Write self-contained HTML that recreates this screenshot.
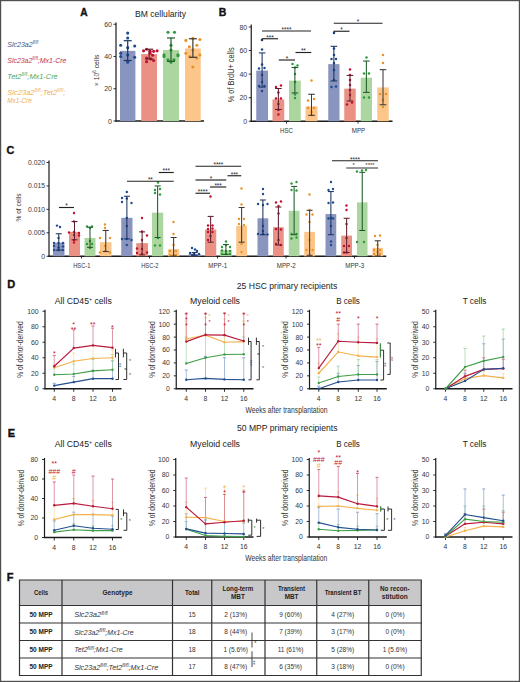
<!DOCTYPE html>
<html><head><meta charset="utf-8"><style>
html,body{margin:0;padding:0;background:#fff;}
body{width:520px;height:682px;overflow:hidden;}
svg{display:block;font-family:"Liberation Sans", sans-serif;}
</style></head><body>
<svg width="520" height="682" viewBox="0 0 520 682">
<rect width="520" height="682" fill="#fff"/>
<rect x="0.6" y="0.6" width="518.8" height="680.8" fill="none" stroke="#505050" stroke-width="1.2"/>
<text x="84" y="16.3" font-size="10.2" text-anchor="middle" fill="#111" font-weight="bold" stroke="#111" stroke-width="0.35">A</text>
<text x="160.5" y="17" font-size="8.6" text-anchor="middle" fill="#222" textLength="51" lengthAdjust="spacingAndGlyphs">BM cellularity</text>
<text x="7.3" y="46.6" font-size="7.3" font-style="italic" fill="#3b5486" textLength="31" lengthAdjust="spacingAndGlyphs"><tspan dy="0">Slc23a2</tspan><tspan font-size="4.6" dy="-2.8">fl/fl</tspan></text>
<text x="7.3" y="62.8" font-size="7.3" font-style="italic" fill="#c0304c" textLength="59" lengthAdjust="spacingAndGlyphs"><tspan dy="0">Slc23a2</tspan><tspan font-size="4.6" dy="-2.8">fl/fl</tspan><tspan dy="2.8">;Mx1-Cre</tspan></text>
<text x="7.3" y="78.9" font-size="7.3" font-style="italic" fill="#52a852" textLength="50.4" lengthAdjust="spacingAndGlyphs"><tspan dy="0">Tet2</tspan><tspan font-size="4.6" dy="-2.8">fl/fl</tspan><tspan dy="2.8">;Mx1-Cre</tspan></text>
<text x="7.3" y="94.9" font-size="7.3" font-style="italic" fill="#f1ad58" textLength="58" lengthAdjust="spacingAndGlyphs"><tspan dy="0">Slc23a2</tspan><tspan font-size="4.6" dy="-2.8">fl/fl</tspan><tspan dy="2.8">;Tet2</tspan><tspan font-size="4.6" dy="-2.8">fl/fl</tspan><tspan dy="2.8">;</tspan></text>
<text x="7.3" y="102.8" font-size="7.3" font-style="italic" fill="#f1ad58" textLength="24.4" lengthAdjust="spacingAndGlyphs"><tspan dy="0">Mx1-Cre</tspan></text>
<line x1="116" y1="22.5" x2="116" y2="121.6" stroke="#1a1a1a" stroke-width="1.2"/>
<line x1="113.5" y1="121" x2="116" y2="121" stroke="#1a1a1a" stroke-width="0.9"/>
<text x="112" y="123.52" font-size="7" text-anchor="end" fill="#383838">0</text>
<line x1="113.5" y1="88.75" x2="116" y2="88.75" stroke="#1a1a1a" stroke-width="0.9"/>
<text x="112" y="91.27" font-size="7" text-anchor="end" fill="#383838">20</text>
<line x1="113.5" y1="56.5" x2="116" y2="56.5" stroke="#1a1a1a" stroke-width="0.9"/>
<text x="112" y="59.02" font-size="7" text-anchor="end" fill="#383838">40</text>
<line x1="113.5" y1="24.25" x2="116" y2="24.25" stroke="#1a1a1a" stroke-width="0.9"/>
<text x="112" y="26.77" font-size="7" text-anchor="end" fill="#383838">60</text>
<line x1="115.4" y1="121" x2="204" y2="121" stroke="#1a1a1a" stroke-width="1.3"/>
<text transform="translate(98.8,70.4) rotate(-90)" font-size="7.6" text-anchor="middle" fill="#333" textLength="31.5" lengthAdjust="spacingAndGlyphs">× 10<tspan font-size="4.8" dy="-3">6</tspan><tspan dy="3"> cells</tspan></text>
<rect x="120" y="50.86" width="15.4" height="70.14" fill="#8994bf"/>
<circle cx="127.7" cy="33.12" r="1.55" fill="#1d4b8f"/>
<circle cx="127.7" cy="37.96" r="1.55" fill="#1d4b8f"/>
<circle cx="120.7" cy="45.21" r="1.55" fill="#1d4b8f"/>
<circle cx="134.7" cy="46.02" r="1.55" fill="#1d4b8f"/>
<circle cx="127.7" cy="47.63" r="1.55" fill="#1d4b8f"/>
<circle cx="120.7" cy="53.28" r="1.55" fill="#1d4b8f"/>
<circle cx="120.7" cy="56.5" r="1.55" fill="#1d4b8f"/>
<circle cx="134.7" cy="57.31" r="1.55" fill="#1d4b8f"/>
<circle cx="127.7" cy="54.89" r="1.55" fill="#1d4b8f"/>
<circle cx="127.7" cy="62.14" r="1.55" fill="#1d4b8f"/>
<line x1="127.7" y1="40.7" x2="127.7" y2="60.53" stroke="#1c3460" stroke-width="1.2"/>
<line x1="123.7" y1="40.7" x2="131.7" y2="40.7" stroke="#1c3460" stroke-width="1.2"/>
<line x1="123.7" y1="60.53" x2="131.7" y2="60.53" stroke="#1c3460" stroke-width="1.2"/>
<rect x="141.25" y="54.08" width="15.75" height="66.92" fill="#ea9184"/>
<circle cx="143.62" cy="50.86" r="1.55" fill="#c3102f"/>
<circle cx="146.62" cy="49.24" r="1.55" fill="#c3102f"/>
<circle cx="150.12" cy="51.34" r="1.55" fill="#c3102f"/>
<circle cx="153.62" cy="51.34" r="1.55" fill="#c3102f"/>
<circle cx="157.12" cy="50.86" r="1.55" fill="#c3102f"/>
<circle cx="150.12" cy="53.28" r="1.55" fill="#c3102f"/>
<circle cx="152.62" cy="55.21" r="1.55" fill="#c3102f"/>
<circle cx="146.62" cy="58.11" r="1.55" fill="#c3102f"/>
<circle cx="150.62" cy="58.92" r="1.55" fill="#c3102f"/>
<circle cx="153.62" cy="60.53" r="1.55" fill="#c3102f"/>
<circle cx="146.62" cy="61.66" r="1.55" fill="#c3102f"/>
<line x1="149.12" y1="49.24" x2="149.12" y2="58.92" stroke="#5e2030" stroke-width="1.2"/>
<line x1="145.12" y1="49.24" x2="153.12" y2="49.24" stroke="#5e2030" stroke-width="1.2"/>
<line x1="145.12" y1="58.92" x2="153.12" y2="58.92" stroke="#5e2030" stroke-width="1.2"/>
<rect x="163" y="50.05" width="16" height="70.95" fill="#acd69f"/>
<circle cx="168" cy="32.31" r="1.55" fill="#2e9a3a"/>
<circle cx="174.5" cy="32.31" r="1.55" fill="#2e9a3a"/>
<circle cx="164" cy="54.89" r="1.55" fill="#2e9a3a"/>
<circle cx="178" cy="54.89" r="1.55" fill="#2e9a3a"/>
<circle cx="171" cy="45.21" r="1.55" fill="#2e9a3a"/>
<circle cx="171" cy="50.05" r="1.55" fill="#2e9a3a"/>
<circle cx="168" cy="59.73" r="1.55" fill="#2e9a3a"/>
<circle cx="174" cy="59.73" r="1.55" fill="#2e9a3a"/>
<circle cx="171" cy="62.14" r="1.55" fill="#2e9a3a"/>
<circle cx="164" cy="56.5" r="1.55" fill="#2e9a3a"/>
<circle cx="178" cy="55.69" r="1.55" fill="#2e9a3a"/>
<line x1="171" y1="37.96" x2="171" y2="61.34" stroke="#1f5a2a" stroke-width="1.2"/>
<line x1="167" y1="37.96" x2="175" y2="37.96" stroke="#1f5a2a" stroke-width="1.2"/>
<line x1="167" y1="61.34" x2="175" y2="61.34" stroke="#1f5a2a" stroke-width="1.2"/>
<rect x="185" y="48.44" width="15.75" height="72.56" fill="#fcc68a"/>
<circle cx="185.88" cy="40.38" r="1.55" fill="#e8922a"/>
<circle cx="192.88" cy="38.28" r="1.55" fill="#e8922a"/>
<circle cx="199.88" cy="39.57" r="1.55" fill="#e8922a"/>
<circle cx="189.38" cy="46.83" r="1.55" fill="#e8922a"/>
<circle cx="196.88" cy="45.21" r="1.55" fill="#e8922a"/>
<circle cx="185.88" cy="53.28" r="1.55" fill="#e8922a"/>
<circle cx="199.88" cy="54.89" r="1.55" fill="#e8922a"/>
<circle cx="192.88" cy="50.05" r="1.55" fill="#e8922a"/>
<circle cx="189.88" cy="56.5" r="1.55" fill="#e8922a"/>
<circle cx="196.88" cy="58.11" r="1.55" fill="#e8922a"/>
<circle cx="192.88" cy="66.98" r="1.55" fill="#e8922a"/>
<line x1="192.88" y1="38.76" x2="192.88" y2="57.31" stroke="#3d3833" stroke-width="1.2"/>
<line x1="188.88" y1="38.76" x2="196.88" y2="38.76" stroke="#3d3833" stroke-width="1.2"/>
<line x1="188.88" y1="57.31" x2="196.88" y2="57.31" stroke="#3d3833" stroke-width="1.2"/>
<text x="222.5" y="16.3" font-size="10.5" text-anchor="middle" fill="#111" font-weight="bold" stroke="#111" stroke-width="0.35">B</text>
<line x1="251.25" y1="24.5" x2="251.25" y2="121.85" stroke="#1a1a1a" stroke-width="1.2"/>
<line x1="248.75" y1="121.25" x2="251.25" y2="121.25" stroke="#1a1a1a" stroke-width="0.9"/>
<text x="247.25" y="123.77" font-size="7" text-anchor="end" fill="#383838">0</text>
<line x1="248.75" y1="97.69" x2="251.25" y2="97.69" stroke="#1a1a1a" stroke-width="0.9"/>
<text x="247.25" y="100.21" font-size="7" text-anchor="end" fill="#383838">20</text>
<line x1="248.75" y1="74.12" x2="251.25" y2="74.12" stroke="#1a1a1a" stroke-width="0.9"/>
<text x="247.25" y="76.64" font-size="7" text-anchor="end" fill="#383838">40</text>
<line x1="248.75" y1="50.56" x2="251.25" y2="50.56" stroke="#1a1a1a" stroke-width="0.9"/>
<text x="247.25" y="53.08" font-size="7" text-anchor="end" fill="#383838">60</text>
<line x1="248.75" y1="27" x2="251.25" y2="27" stroke="#1a1a1a" stroke-width="0.9"/>
<text x="247.25" y="29.52" font-size="7" text-anchor="end" fill="#383838">80</text>
<line x1="250.6" y1="121.25" x2="392.5" y2="121.25" stroke="#1a1a1a" stroke-width="1.3"/>
<line x1="286.5" y1="121.25" x2="286.5" y2="123.5" stroke="#1a1a1a" stroke-width="0.9"/>
<line x1="358" y1="121.25" x2="358" y2="123.5" stroke="#1a1a1a" stroke-width="0.9"/>
<text x="286.5" y="133" font-size="7" text-anchor="middle" fill="#333" textLength="13" lengthAdjust="spacingAndGlyphs">HSC</text>
<text x="358.5" y="133" font-size="7" text-anchor="middle" fill="#333" textLength="13.5" lengthAdjust="spacingAndGlyphs">MPP</text>
<text transform="translate(233.9,74.8) rotate(-90)" font-size="8.4" text-anchor="middle" fill="#333" textLength="55" lengthAdjust="spacingAndGlyphs">% of BrdU+ cells</text>
<rect x="256.25" y="70.59" width="11.75" height="50.66" fill="#8994bf"/>
<circle cx="262.02" cy="39.99" r="1.25" fill="#1d4b8f"/>
<circle cx="262.02" cy="49.49" r="1.25" fill="#1d4b8f"/>
<circle cx="262.02" cy="64.49" r="1.25" fill="#1d4b8f"/>
<circle cx="259.02" cy="68.49" r="1.25" fill="#1d4b8f"/>
<circle cx="264.52" cy="67.99" r="1.25" fill="#1d4b8f"/>
<circle cx="262.02" cy="75" r="1.25" fill="#1d4b8f"/>
<circle cx="262.02" cy="82" r="1.25" fill="#1d4b8f"/>
<circle cx="262.02" cy="91" r="1.25" fill="#1d4b8f"/>
<circle cx="259.02" cy="86" r="1.25" fill="#1d4b8f"/>
<circle cx="264.52" cy="86" r="1.25" fill="#1d4b8f"/>
<line x1="262.12" y1="52.92" x2="262.12" y2="87.08" stroke="#1c3460" stroke-width="1.05"/>
<line x1="258.82" y1="52.92" x2="265.43" y2="52.92" stroke="#1c3460" stroke-width="1.05"/>
<line x1="258.82" y1="87.08" x2="265.43" y2="87.08" stroke="#1c3460" stroke-width="1.05"/>
<rect x="272.5" y="99.45" width="11.75" height="21.8" fill="#ea9184"/>
<circle cx="275.98" cy="87" r="1.25" fill="#c3102f"/>
<circle cx="280.98" cy="85.5" r="1.25" fill="#c3102f"/>
<circle cx="278.38" cy="92.5" r="1.25" fill="#c3102f"/>
<circle cx="275.98" cy="98.5" r="1.25" fill="#c3102f"/>
<circle cx="280.98" cy="98.5" r="1.25" fill="#c3102f"/>
<circle cx="278.38" cy="104" r="1.25" fill="#c3102f"/>
<circle cx="278.38" cy="114.5" r="1.25" fill="#c3102f"/>
<circle cx="278.38" cy="110" r="1.25" fill="#c3102f"/>
<line x1="278.38" y1="88.5" x2="278.38" y2="109.47" stroke="#5e2030" stroke-width="1.05"/>
<line x1="275.07" y1="88.5" x2="281.68" y2="88.5" stroke="#5e2030" stroke-width="1.05"/>
<line x1="275.07" y1="109.47" x2="281.68" y2="109.47" stroke="#5e2030" stroke-width="1.05"/>
<rect x="289" y="80.6" width="11.75" height="40.65" fill="#acd69f"/>
<circle cx="292.48" cy="63.99" r="1.25" fill="#2e9a3a"/>
<circle cx="297.48" cy="65.49" r="1.25" fill="#2e9a3a"/>
<circle cx="294.98" cy="67.49" r="1.25" fill="#2e9a3a"/>
<circle cx="294.98" cy="82" r="1.25" fill="#2e9a3a"/>
<circle cx="294.98" cy="94.5" r="1.25" fill="#2e9a3a"/>
<circle cx="294.98" cy="98" r="1.25" fill="#2e9a3a"/>
<circle cx="294.98" cy="73.99" r="1.25" fill="#2e9a3a"/>
<line x1="294.88" y1="67.53" x2="294.88" y2="92.97" stroke="#1f5a2a" stroke-width="1.05"/>
<line x1="291.57" y1="67.53" x2="298.18" y2="67.53" stroke="#1f5a2a" stroke-width="1.05"/>
<line x1="291.57" y1="92.97" x2="298.18" y2="92.97" stroke="#1f5a2a" stroke-width="1.05"/>
<rect x="305.5" y="106.29" width="12" height="14.96" fill="#fcc68a"/>
<circle cx="311.5" cy="80.5" r="1.25" fill="#e8922a"/>
<circle cx="308" cy="100.5" r="1.25" fill="#e8922a"/>
<circle cx="314" cy="99" r="1.25" fill="#e8922a"/>
<circle cx="308" cy="108" r="1.25" fill="#e8922a"/>
<circle cx="314" cy="108" r="1.25" fill="#e8922a"/>
<circle cx="311.5" cy="112" r="1.25" fill="#e8922a"/>
<circle cx="311.5" cy="115" r="1.25" fill="#e8922a"/>
<line x1="311.5" y1="94.27" x2="311.5" y2="115.36" stroke="#3d3833" stroke-width="1.05"/>
<line x1="308.2" y1="94.27" x2="314.8" y2="94.27" stroke="#3d3833" stroke-width="1.05"/>
<line x1="308.2" y1="115.36" x2="314.8" y2="115.36" stroke="#3d3833" stroke-width="1.05"/>
<rect x="328.25" y="64.11" width="11.25" height="57.14" fill="#8994bf"/>
<circle cx="333.98" cy="32.99" r="1.25" fill="#1d4b8f"/>
<circle cx="333.98" cy="48.49" r="1.25" fill="#1d4b8f"/>
<circle cx="333.98" cy="54.99" r="1.25" fill="#1d4b8f"/>
<circle cx="331.48" cy="58.99" r="1.25" fill="#1d4b8f"/>
<circle cx="335.98" cy="58.99" r="1.25" fill="#1d4b8f"/>
<circle cx="333.98" cy="62.99" r="1.25" fill="#1d4b8f"/>
<circle cx="333.98" cy="69.99" r="1.25" fill="#1d4b8f"/>
<circle cx="331.48" cy="87" r="1.25" fill="#1d4b8f"/>
<circle cx="335.98" cy="86.5" r="1.25" fill="#1d4b8f"/>
<circle cx="333.98" cy="80" r="1.25" fill="#1d4b8f"/>
<line x1="333.88" y1="46.32" x2="333.88" y2="80.96" stroke="#1c3460" stroke-width="1.05"/>
<line x1="330.57" y1="46.32" x2="337.18" y2="46.32" stroke="#1c3460" stroke-width="1.05"/>
<line x1="330.57" y1="80.96" x2="337.18" y2="80.96" stroke="#1c3460" stroke-width="1.05"/>
<rect x="344.25" y="88.62" width="11.5" height="32.63" fill="#ea9184"/>
<circle cx="350" cy="69.49" r="1.25" fill="#c3102f"/>
<circle cx="350" cy="75" r="1.25" fill="#c3102f"/>
<circle cx="350" cy="80" r="1.25" fill="#c3102f"/>
<circle cx="350" cy="85" r="1.25" fill="#c3102f"/>
<circle cx="350" cy="90" r="1.25" fill="#c3102f"/>
<circle cx="350" cy="95" r="1.25" fill="#c3102f"/>
<circle cx="347" cy="104.5" r="1.25" fill="#c3102f"/>
<circle cx="352" cy="102.5" r="1.25" fill="#c3102f"/>
<line x1="350" y1="75.42" x2="350" y2="100.99" stroke="#5e2030" stroke-width="1.05"/>
<line x1="346.7" y1="75.42" x2="353.3" y2="75.42" stroke="#5e2030" stroke-width="1.05"/>
<line x1="346.7" y1="100.99" x2="353.3" y2="100.99" stroke="#5e2030" stroke-width="1.05"/>
<rect x="360.75" y="77.66" width="11.25" height="43.59" fill="#acd69f"/>
<circle cx="366.48" cy="57.49" r="1.25" fill="#2e9a3a"/>
<circle cx="363.98" cy="73.49" r="1.25" fill="#2e9a3a"/>
<circle cx="368.98" cy="73.49" r="1.25" fill="#2e9a3a"/>
<circle cx="363.98" cy="97.5" r="1.25" fill="#2e9a3a"/>
<circle cx="368.98" cy="97.5" r="1.25" fill="#2e9a3a"/>
<line x1="366.38" y1="61.05" x2="366.38" y2="92.39" stroke="#1f5a2a" stroke-width="1.05"/>
<line x1="363.07" y1="61.05" x2="369.68" y2="61.05" stroke="#1f5a2a" stroke-width="1.05"/>
<line x1="363.07" y1="92.39" x2="369.68" y2="92.39" stroke="#1f5a2a" stroke-width="1.05"/>
<rect x="377.25" y="87.44" width="11.5" height="33.81" fill="#fcc68a"/>
<circle cx="383" cy="54.99" r="1.25" fill="#e8922a"/>
<circle cx="383" cy="62.99" r="1.25" fill="#e8922a"/>
<circle cx="380" cy="94" r="1.25" fill="#e8922a"/>
<circle cx="386" cy="94" r="1.25" fill="#e8922a"/>
<circle cx="383" cy="107" r="1.25" fill="#e8922a"/>
<circle cx="383" cy="100" r="1.25" fill="#e8922a"/>
<line x1="383" y1="69.65" x2="383" y2="104.76" stroke="#3d3833" stroke-width="1.05"/>
<line x1="379.7" y1="69.65" x2="386.3" y2="69.65" stroke="#3d3833" stroke-width="1.05"/>
<line x1="379.7" y1="104.76" x2="386.3" y2="104.76" stroke="#3d3833" stroke-width="1.05"/>
<line x1="262" y1="31" x2="311" y2="31" stroke="#222" stroke-width="1.15"/>
<text x="286.5" y="31.8" font-size="6.4" text-anchor="middle" fill="#222">****</text>
<line x1="262" y1="38.75" x2="278" y2="38.75" stroke="#222" stroke-width="1.15"/>
<text x="270" y="39.55" font-size="6.4" text-anchor="middle" fill="#222">***</text>
<line x1="262" y1="38.75" x2="262" y2="41" stroke="#222" stroke-width="1"/>
<line x1="278.75" y1="60" x2="295" y2="60" stroke="#222" stroke-width="1.15"/>
<text x="286.88" y="60.8" font-size="6.4" text-anchor="middle" fill="#222">*</text>
<line x1="295.5" y1="52.5" x2="311.25" y2="52.5" stroke="#222" stroke-width="1.15"/>
<text x="303.38" y="53.3" font-size="6.4" text-anchor="middle" fill="#222">**</text>
<line x1="333.75" y1="23.25" x2="382.5" y2="23.25" stroke="#222" stroke-width="1.15"/>
<text x="358.12" y="24.05" font-size="6.4" text-anchor="middle" fill="#222">*</text>
<line x1="333.75" y1="31.25" x2="349.5" y2="31.25" stroke="#222" stroke-width="1.15"/>
<text x="341.62" y="32.05" font-size="6.4" text-anchor="middle" fill="#222">*</text>
<line x1="333.75" y1="31.25" x2="333.75" y2="33.5" stroke="#222" stroke-width="1"/>
<text x="10.5" y="153.8" font-size="10.8" text-anchor="middle" fill="#111" font-weight="bold" stroke="#111" stroke-width="0.35">C</text>
<line x1="49" y1="160.5" x2="49" y2="256.85" stroke="#1a1a1a" stroke-width="1.2"/>
<line x1="46.5" y1="256.25" x2="49" y2="256.25" stroke="#1a1a1a" stroke-width="0.9"/>
<text x="45" y="258.7" font-size="6.8" text-anchor="end" fill="#383838">0</text>
<line x1="46.5" y1="232.81" x2="49" y2="232.81" stroke="#1a1a1a" stroke-width="0.9"/>
<text x="45" y="235.26" font-size="6.8" text-anchor="end" fill="#383838">0.005</text>
<line x1="46.5" y1="209.38" x2="49" y2="209.38" stroke="#1a1a1a" stroke-width="0.9"/>
<text x="45" y="211.82" font-size="6.8" text-anchor="end" fill="#383838">0.010</text>
<line x1="46.5" y1="185.94" x2="49" y2="185.94" stroke="#1a1a1a" stroke-width="0.9"/>
<text x="45" y="188.39" font-size="6.8" text-anchor="end" fill="#383838">0.015</text>
<line x1="46.5" y1="162.5" x2="49" y2="162.5" stroke="#1a1a1a" stroke-width="0.9"/>
<text x="45" y="164.95" font-size="6.8" text-anchor="end" fill="#383838">0.020</text>
<line x1="48.4" y1="256.25" x2="386.25" y2="256.25" stroke="#1a1a1a" stroke-width="1.3"/>
<text transform="translate(20.5,207.5) rotate(-90)" font-size="7" text-anchor="middle" fill="#333" textLength="28" lengthAdjust="spacingAndGlyphs">% of cells</text>
<line x1="81.5" y1="256.25" x2="81.5" y2="258.5" stroke="#1a1a1a" stroke-width="0.9"/>
<text x="81.8" y="268" font-size="7" text-anchor="middle" fill="#333" textLength="17.3" lengthAdjust="spacingAndGlyphs">HSC-1</text>
<rect x="53" y="242.66" width="11.5" height="13.59" fill="#8994bf"/>
<circle cx="57" cy="225.6" r="1.2" fill="#1d4b8f"/>
<circle cx="60" cy="227" r="1.2" fill="#1d4b8f"/>
<circle cx="54" cy="243" r="1.2" fill="#1d4b8f"/>
<circle cx="58.5" cy="243" r="1.2" fill="#1d4b8f"/>
<circle cx="63" cy="243" r="1.2" fill="#1d4b8f"/>
<circle cx="54" cy="246" r="1.2" fill="#1d4b8f"/>
<circle cx="58.5" cy="247.5" r="1.2" fill="#1d4b8f"/>
<circle cx="63" cy="246.5" r="1.2" fill="#1d4b8f"/>
<circle cx="54" cy="250" r="1.2" fill="#1d4b8f"/>
<circle cx="58.5" cy="250" r="1.2" fill="#1d4b8f"/>
<circle cx="63" cy="250" r="1.2" fill="#1d4b8f"/>
<circle cx="58.5" cy="238" r="1.2" fill="#1d4b8f"/>
<line x1="58.75" y1="233.75" x2="58.75" y2="250.16" stroke="#1c3460" stroke-width="1.05"/>
<line x1="55.75" y1="233.75" x2="61.75" y2="233.75" stroke="#1c3460" stroke-width="1.05"/>
<line x1="55.75" y1="250.16" x2="61.75" y2="250.16" stroke="#1c3460" stroke-width="1.05"/>
<rect x="69" y="231.88" width="11" height="24.38" fill="#ea9184"/>
<circle cx="74" cy="213" r="1.2" fill="#c3102f"/>
<circle cx="74" cy="221.5" r="1.2" fill="#c3102f"/>
<circle cx="69" cy="232.5" r="1.2" fill="#c3102f"/>
<circle cx="74" cy="232" r="1.2" fill="#c3102f"/>
<circle cx="79" cy="233" r="1.2" fill="#c3102f"/>
<circle cx="74" cy="235" r="1.2" fill="#c3102f"/>
<circle cx="79" cy="235.5" r="1.2" fill="#c3102f"/>
<circle cx="74" cy="242.5" r="1.2" fill="#c3102f"/>
<circle cx="74" cy="240" r="1.2" fill="#c3102f"/>
<line x1="74.5" y1="221.56" x2="74.5" y2="239.84" stroke="#5e2030" stroke-width="1.05"/>
<line x1="71.5" y1="221.56" x2="77.5" y2="221.56" stroke="#5e2030" stroke-width="1.05"/>
<line x1="71.5" y1="239.84" x2="77.5" y2="239.84" stroke="#5e2030" stroke-width="1.05"/>
<rect x="84.5" y="237.97" width="11" height="18.28" fill="#acd69f"/>
<circle cx="87" cy="226.5" r="1.2" fill="#2e9a3a"/>
<circle cx="92" cy="226.5" r="1.2" fill="#2e9a3a"/>
<circle cx="90" cy="228" r="1.2" fill="#2e9a3a"/>
<circle cx="90" cy="241" r="1.2" fill="#2e9a3a"/>
<circle cx="87" cy="244" r="1.2" fill="#2e9a3a"/>
<circle cx="92" cy="244" r="1.2" fill="#2e9a3a"/>
<circle cx="90" cy="248" r="1.2" fill="#2e9a3a"/>
<line x1="90" y1="227.19" x2="90" y2="247.34" stroke="#1f5a2a" stroke-width="1.05"/>
<line x1="87" y1="227.19" x2="93" y2="227.19" stroke="#1f5a2a" stroke-width="1.05"/>
<line x1="87" y1="247.34" x2="93" y2="247.34" stroke="#1f5a2a" stroke-width="1.05"/>
<rect x="100" y="242.19" width="11.5" height="14.06" fill="#fcc68a"/>
<circle cx="105" cy="224.5" r="1.2" fill="#e8922a"/>
<circle cx="105" cy="228" r="1.2" fill="#e8922a"/>
<circle cx="100" cy="238" r="1.2" fill="#e8922a"/>
<circle cx="110" cy="238" r="1.2" fill="#e8922a"/>
<circle cx="105" cy="246" r="1.2" fill="#e8922a"/>
<circle cx="100" cy="252.5" r="1.2" fill="#e8922a"/>
<circle cx="110" cy="252.5" r="1.2" fill="#e8922a"/>
<circle cx="105" cy="251" r="1.2" fill="#e8922a"/>
<line x1="105.75" y1="230.47" x2="105.75" y2="251.56" stroke="#3d3833" stroke-width="1.05"/>
<line x1="102.75" y1="230.47" x2="108.75" y2="230.47" stroke="#3d3833" stroke-width="1.05"/>
<line x1="102.75" y1="251.56" x2="108.75" y2="251.56" stroke="#3d3833" stroke-width="1.05"/>
<line x1="149.5" y1="256.25" x2="149.5" y2="258.5" stroke="#1a1a1a" stroke-width="0.9"/>
<text x="149.8" y="268" font-size="7" text-anchor="middle" fill="#333" textLength="17.3" lengthAdjust="spacingAndGlyphs">HSC-2</text>
<rect x="121.25" y="217.81" width="11.25" height="38.44" fill="#8994bf"/>
<circle cx="126.8" cy="192" r="1.2" fill="#1d4b8f"/>
<circle cx="122" cy="198" r="1.2" fill="#1d4b8f"/>
<circle cx="126.8" cy="198.5" r="1.2" fill="#1d4b8f"/>
<circle cx="122" cy="202" r="1.2" fill="#1d4b8f"/>
<circle cx="131.5" cy="203" r="1.2" fill="#1d4b8f"/>
<circle cx="126.8" cy="218" r="1.2" fill="#1d4b8f"/>
<circle cx="126.8" cy="226" r="1.2" fill="#1d4b8f"/>
<circle cx="122" cy="239" r="1.2" fill="#1d4b8f"/>
<circle cx="126.8" cy="239" r="1.2" fill="#1d4b8f"/>
<circle cx="131.5" cy="240" r="1.2" fill="#1d4b8f"/>
<circle cx="126.8" cy="245" r="1.2" fill="#1d4b8f"/>
<line x1="126.88" y1="196.25" x2="126.88" y2="238.91" stroke="#1c3460" stroke-width="1.05"/>
<line x1="123.88" y1="196.25" x2="129.88" y2="196.25" stroke="#1c3460" stroke-width="1.05"/>
<line x1="123.88" y1="238.91" x2="129.88" y2="238.91" stroke="#1c3460" stroke-width="1.05"/>
<rect x="136.25" y="243.12" width="11.75" height="13.12" fill="#ea9184"/>
<circle cx="142" cy="218" r="1.2" fill="#c3102f"/>
<circle cx="142" cy="231.5" r="1.2" fill="#c3102f"/>
<circle cx="147" cy="235.5" r="1.2" fill="#c3102f"/>
<circle cx="142" cy="240" r="1.2" fill="#c3102f"/>
<circle cx="137" cy="248.5" r="1.2" fill="#c3102f"/>
<circle cx="142" cy="249" r="1.2" fill="#c3102f"/>
<circle cx="147" cy="252.5" r="1.2" fill="#c3102f"/>
<circle cx="137" cy="253" r="1.2" fill="#c3102f"/>
<circle cx="142" cy="254" r="1.2" fill="#c3102f"/>
<line x1="142.12" y1="231.88" x2="142.12" y2="254.84" stroke="#5e2030" stroke-width="1.05"/>
<line x1="139.12" y1="231.88" x2="145.12" y2="231.88" stroke="#5e2030" stroke-width="1.05"/>
<line x1="139.12" y1="254.84" x2="145.12" y2="254.84" stroke="#5e2030" stroke-width="1.05"/>
<rect x="152" y="212.66" width="11.25" height="43.59" fill="#acd69f"/>
<circle cx="158" cy="182.5" r="1.2" fill="#2e9a3a"/>
<circle cx="155" cy="190" r="1.2" fill="#2e9a3a"/>
<circle cx="160" cy="189" r="1.2" fill="#2e9a3a"/>
<circle cx="155" cy="193" r="1.2" fill="#2e9a3a"/>
<circle cx="160" cy="194.5" r="1.2" fill="#2e9a3a"/>
<circle cx="158" cy="238" r="1.2" fill="#2e9a3a"/>
<circle cx="155" cy="245.5" r="1.2" fill="#2e9a3a"/>
<circle cx="160" cy="245.5" r="1.2" fill="#2e9a3a"/>
<line x1="157.62" y1="185.94" x2="157.62" y2="237.5" stroke="#1f5a2a" stroke-width="1.05"/>
<line x1="154.62" y1="185.94" x2="160.62" y2="185.94" stroke="#1f5a2a" stroke-width="1.05"/>
<line x1="154.62" y1="237.5" x2="160.62" y2="237.5" stroke="#1f5a2a" stroke-width="1.05"/>
<rect x="168" y="249.22" width="11.25" height="7.03" fill="#fcc68a"/>
<circle cx="173.5" cy="222" r="1.2" fill="#e8922a"/>
<circle cx="173.5" cy="234" r="1.2" fill="#e8922a"/>
<circle cx="173.5" cy="245" r="1.2" fill="#e8922a"/>
<circle cx="170" cy="251" r="1.2" fill="#e8922a"/>
<circle cx="176" cy="251" r="1.2" fill="#e8922a"/>
<circle cx="173.5" cy="255" r="1.2" fill="#e8922a"/>
<circle cx="170" cy="255" r="1.2" fill="#e8922a"/>
<circle cx="176" cy="255" r="1.2" fill="#e8922a"/>
<line x1="173.62" y1="237.5" x2="173.62" y2="256.02" stroke="#3d3833" stroke-width="1.05"/>
<line x1="170.62" y1="237.5" x2="176.62" y2="237.5" stroke="#3d3833" stroke-width="1.05"/>
<line x1="170.62" y1="256.02" x2="176.62" y2="256.02" stroke="#3d3833" stroke-width="1.05"/>
<line x1="217.5" y1="256.25" x2="217.5" y2="258.5" stroke="#1a1a1a" stroke-width="0.9"/>
<text x="217.8" y="268" font-size="7" text-anchor="middle" fill="#333" textLength="19" lengthAdjust="spacingAndGlyphs">MPP-1</text>
<rect x="188.75" y="253.91" width="11.75" height="2.34" fill="#8994bf"/>
<circle cx="192" cy="248" r="1.2" fill="#1d4b8f"/>
<circle cx="195" cy="249.5" r="1.2" fill="#1d4b8f"/>
<circle cx="197" cy="251" r="1.2" fill="#1d4b8f"/>
<circle cx="190" cy="253" r="1.2" fill="#1d4b8f"/>
<circle cx="194" cy="254" r="1.2" fill="#1d4b8f"/>
<circle cx="199" cy="254" r="1.2" fill="#1d4b8f"/>
<circle cx="192" cy="255" r="1.2" fill="#1d4b8f"/>
<line x1="194.62" y1="252.5" x2="194.62" y2="255.31" stroke="#1c3460" stroke-width="1.05"/>
<line x1="191.62" y1="252.5" x2="197.62" y2="252.5" stroke="#1c3460" stroke-width="1.05"/>
<line x1="191.62" y1="255.31" x2="197.62" y2="255.31" stroke="#1c3460" stroke-width="1.05"/>
<rect x="205" y="229.53" width="11.25" height="26.72" fill="#ea9184"/>
<circle cx="210.5" cy="196.5" r="1.2" fill="#c3102f"/>
<circle cx="208" cy="225.5" r="1.2" fill="#c3102f"/>
<circle cx="212.5" cy="225.5" r="1.2" fill="#c3102f"/>
<circle cx="208" cy="229" r="1.2" fill="#c3102f"/>
<circle cx="212.5" cy="228.5" r="1.2" fill="#c3102f"/>
<circle cx="208" cy="232" r="1.2" fill="#c3102f"/>
<circle cx="212.5" cy="232" r="1.2" fill="#c3102f"/>
<circle cx="210.5" cy="236" r="1.2" fill="#c3102f"/>
<circle cx="208" cy="240" r="1.2" fill="#c3102f"/>
<line x1="210.62" y1="216.41" x2="210.62" y2="242.19" stroke="#5e2030" stroke-width="1.05"/>
<line x1="207.62" y1="216.41" x2="213.62" y2="216.41" stroke="#5e2030" stroke-width="1.05"/>
<line x1="207.62" y1="242.19" x2="213.62" y2="242.19" stroke="#5e2030" stroke-width="1.05"/>
<rect x="220" y="250.16" width="11.75" height="6.09" fill="#acd69f"/>
<circle cx="226" cy="241.5" r="1.2" fill="#2e9a3a"/>
<circle cx="226" cy="245" r="1.2" fill="#2e9a3a"/>
<circle cx="222" cy="247" r="1.2" fill="#2e9a3a"/>
<circle cx="230" cy="247" r="1.2" fill="#2e9a3a"/>
<circle cx="222" cy="250.5" r="1.2" fill="#2e9a3a"/>
<circle cx="226" cy="251" r="1.2" fill="#2e9a3a"/>
<circle cx="230" cy="251" r="1.2" fill="#2e9a3a"/>
<circle cx="222" cy="254" r="1.2" fill="#2e9a3a"/>
<circle cx="226" cy="254" r="1.2" fill="#2e9a3a"/>
<circle cx="230" cy="254" r="1.2" fill="#2e9a3a"/>
<line x1="225.88" y1="244.53" x2="225.88" y2="254.38" stroke="#1f5a2a" stroke-width="1.05"/>
<line x1="222.88" y1="244.53" x2="228.88" y2="244.53" stroke="#1f5a2a" stroke-width="1.05"/>
<line x1="222.88" y1="254.38" x2="228.88" y2="254.38" stroke="#1f5a2a" stroke-width="1.05"/>
<rect x="236.25" y="225.78" width="10.75" height="30.47" fill="#fcc68a"/>
<circle cx="241.5" cy="188.5" r="1.2" fill="#e8922a"/>
<circle cx="241.5" cy="204.5" r="1.2" fill="#e8922a"/>
<circle cx="239" cy="219" r="1.2" fill="#e8922a"/>
<circle cx="244" cy="219" r="1.2" fill="#e8922a"/>
<circle cx="239" cy="224" r="1.2" fill="#e8922a"/>
<circle cx="244" cy="225" r="1.2" fill="#e8922a"/>
<circle cx="241.5" cy="244" r="1.2" fill="#e8922a"/>
<circle cx="241.5" cy="252" r="1.2" fill="#e8922a"/>
<line x1="241.62" y1="207.5" x2="241.62" y2="242.19" stroke="#3d3833" stroke-width="1.05"/>
<line x1="238.62" y1="207.5" x2="244.62" y2="207.5" stroke="#3d3833" stroke-width="1.05"/>
<line x1="238.62" y1="242.19" x2="244.62" y2="242.19" stroke="#3d3833" stroke-width="1.05"/>
<line x1="286" y1="256.25" x2="286" y2="258.5" stroke="#1a1a1a" stroke-width="0.9"/>
<text x="286.3" y="268" font-size="7" text-anchor="middle" fill="#333" textLength="19" lengthAdjust="spacingAndGlyphs">MPP-2</text>
<rect x="257.5" y="218.28" width="10.75" height="37.97" fill="#8994bf"/>
<circle cx="263" cy="189" r="1.2" fill="#1d4b8f"/>
<circle cx="263" cy="194" r="1.2" fill="#1d4b8f"/>
<circle cx="258" cy="204" r="1.2" fill="#1d4b8f"/>
<circle cx="263" cy="205" r="1.2" fill="#1d4b8f"/>
<circle cx="267.5" cy="204" r="1.2" fill="#1d4b8f"/>
<circle cx="263" cy="226" r="1.2" fill="#1d4b8f"/>
<circle cx="258" cy="234" r="1.2" fill="#1d4b8f"/>
<circle cx="263" cy="234" r="1.2" fill="#1d4b8f"/>
<circle cx="267.5" cy="234.5" r="1.2" fill="#1d4b8f"/>
<circle cx="263" cy="231" r="1.2" fill="#1d4b8f"/>
<line x1="262.88" y1="200" x2="262.88" y2="234.69" stroke="#1c3460" stroke-width="1.05"/>
<line x1="259.88" y1="200" x2="265.88" y2="200" stroke="#1c3460" stroke-width="1.05"/>
<line x1="259.88" y1="234.69" x2="265.88" y2="234.69" stroke="#1c3460" stroke-width="1.05"/>
<rect x="273" y="227.19" width="10.75" height="29.06" fill="#ea9184"/>
<circle cx="276" cy="202.5" r="1.2" fill="#c3102f"/>
<circle cx="281" cy="201.5" r="1.2" fill="#c3102f"/>
<circle cx="278.5" cy="206" r="1.2" fill="#c3102f"/>
<circle cx="278.5" cy="213.5" r="1.2" fill="#c3102f"/>
<circle cx="276" cy="229" r="1.2" fill="#c3102f"/>
<circle cx="281" cy="229.5" r="1.2" fill="#c3102f"/>
<circle cx="276" cy="244" r="1.2" fill="#c3102f"/>
<circle cx="281" cy="245" r="1.2" fill="#c3102f"/>
<circle cx="278.5" cy="240" r="1.2" fill="#c3102f"/>
<line x1="278.38" y1="207.03" x2="278.38" y2="245" stroke="#5e2030" stroke-width="1.05"/>
<line x1="275.38" y1="207.03" x2="281.38" y2="207.03" stroke="#5e2030" stroke-width="1.05"/>
<line x1="275.38" y1="245" x2="281.38" y2="245" stroke="#5e2030" stroke-width="1.05"/>
<rect x="288.75" y="210.78" width="10.75" height="45.47" fill="#acd69f"/>
<circle cx="291.5" cy="183.5" r="1.2" fill="#2e9a3a"/>
<circle cx="296.5" cy="182" r="1.2" fill="#2e9a3a"/>
<circle cx="291.5" cy="190" r="1.2" fill="#2e9a3a"/>
<circle cx="296.5" cy="190.5" r="1.2" fill="#2e9a3a"/>
<circle cx="291.5" cy="234" r="1.2" fill="#2e9a3a"/>
<circle cx="296.5" cy="234" r="1.2" fill="#2e9a3a"/>
<circle cx="291.5" cy="238.5" r="1.2" fill="#2e9a3a"/>
<circle cx="296.5" cy="237.5" r="1.2" fill="#2e9a3a"/>
<line x1="294.12" y1="186.41" x2="294.12" y2="234.69" stroke="#1f5a2a" stroke-width="1.05"/>
<line x1="291.12" y1="186.41" x2="297.12" y2="186.41" stroke="#1f5a2a" stroke-width="1.05"/>
<line x1="291.12" y1="234.69" x2="297.12" y2="234.69" stroke="#1f5a2a" stroke-width="1.05"/>
<rect x="304.25" y="231.88" width="10.75" height="24.38" fill="#fcc68a"/>
<circle cx="309.5" cy="194.5" r="1.2" fill="#e8922a"/>
<circle cx="306.5" cy="214.5" r="1.2" fill="#e8922a"/>
<circle cx="309.5" cy="210" r="1.2" fill="#e8922a"/>
<circle cx="312.5" cy="214.5" r="1.2" fill="#e8922a"/>
<circle cx="309.5" cy="222" r="1.2" fill="#e8922a"/>
<circle cx="309.5" cy="240" r="1.2" fill="#e8922a"/>
<circle cx="306.5" cy="250" r="1.2" fill="#e8922a"/>
<circle cx="312.5" cy="250" r="1.2" fill="#e8922a"/>
<line x1="309.62" y1="210.31" x2="309.62" y2="255.31" stroke="#3d3833" stroke-width="1.05"/>
<line x1="306.62" y1="210.31" x2="312.62" y2="210.31" stroke="#3d3833" stroke-width="1.05"/>
<line x1="306.62" y1="255.31" x2="312.62" y2="255.31" stroke="#3d3833" stroke-width="1.05"/>
<line x1="354.5" y1="256.25" x2="354.5" y2="258.5" stroke="#1a1a1a" stroke-width="0.9"/>
<text x="354.8" y="268" font-size="7" text-anchor="middle" fill="#333" textLength="19" lengthAdjust="spacingAndGlyphs">MPP-3</text>
<rect x="325.5" y="214.06" width="10.75" height="42.19" fill="#8994bf"/>
<circle cx="331" cy="182" r="1.2" fill="#1d4b8f"/>
<circle cx="328.5" cy="190" r="1.2" fill="#1d4b8f"/>
<circle cx="333" cy="189" r="1.2" fill="#1d4b8f"/>
<circle cx="328.5" cy="203" r="1.2" fill="#1d4b8f"/>
<circle cx="333" cy="202.5" r="1.2" fill="#1d4b8f"/>
<circle cx="331" cy="218" r="1.2" fill="#1d4b8f"/>
<circle cx="328.5" cy="218.5" r="1.2" fill="#1d4b8f"/>
<circle cx="333" cy="218.5" r="1.2" fill="#1d4b8f"/>
<circle cx="331" cy="226" r="1.2" fill="#1d4b8f"/>
<circle cx="331" cy="241.5" r="1.2" fill="#1d4b8f"/>
<circle cx="331" cy="245" r="1.2" fill="#1d4b8f"/>
<line x1="330.88" y1="191.56" x2="330.88" y2="234.69" stroke="#1c3460" stroke-width="1.05"/>
<line x1="327.88" y1="191.56" x2="333.88" y2="191.56" stroke="#1c3460" stroke-width="1.05"/>
<line x1="327.88" y1="234.69" x2="333.88" y2="234.69" stroke="#1c3460" stroke-width="1.05"/>
<rect x="341.25" y="235.62" width="10.75" height="20.62" fill="#ea9184"/>
<circle cx="346.5" cy="205.5" r="1.2" fill="#c3102f"/>
<circle cx="346.5" cy="210" r="1.2" fill="#c3102f"/>
<circle cx="346.5" cy="224" r="1.2" fill="#c3102f"/>
<circle cx="346.5" cy="238" r="1.2" fill="#c3102f"/>
<circle cx="344" cy="246" r="1.2" fill="#c3102f"/>
<circle cx="349" cy="246" r="1.2" fill="#c3102f"/>
<circle cx="346.5" cy="252.5" r="1.2" fill="#c3102f"/>
<circle cx="344" cy="252.5" r="1.2" fill="#c3102f"/>
<line x1="346.62" y1="218.28" x2="346.62" y2="252.5" stroke="#5e2030" stroke-width="1.05"/>
<line x1="343.62" y1="218.28" x2="349.62" y2="218.28" stroke="#5e2030" stroke-width="1.05"/>
<line x1="343.62" y1="252.5" x2="349.62" y2="252.5" stroke="#5e2030" stroke-width="1.05"/>
<rect x="357" y="202.34" width="10.5" height="53.91" fill="#acd69f"/>
<circle cx="357" cy="171.5" r="1.2" fill="#2e9a3a"/>
<circle cx="362" cy="170.5" r="1.2" fill="#2e9a3a"/>
<circle cx="366" cy="170" r="1.2" fill="#2e9a3a"/>
<circle cx="357" cy="242" r="1.2" fill="#2e9a3a"/>
<circle cx="364" cy="242" r="1.2" fill="#2e9a3a"/>
<line x1="362.25" y1="172.34" x2="362.25" y2="230.47" stroke="#1f5a2a" stroke-width="1.05"/>
<line x1="359.25" y1="172.34" x2="365.25" y2="172.34" stroke="#1f5a2a" stroke-width="1.05"/>
<line x1="359.25" y1="230.47" x2="365.25" y2="230.47" stroke="#1f5a2a" stroke-width="1.05"/>
<rect x="372.5" y="247.81" width="10.5" height="8.44" fill="#fcc68a"/>
<circle cx="375" cy="236" r="1.2" fill="#e8922a"/>
<circle cx="380" cy="235.5" r="1.2" fill="#e8922a"/>
<circle cx="377.5" cy="245" r="1.2" fill="#e8922a"/>
<circle cx="374" cy="250" r="1.2" fill="#e8922a"/>
<circle cx="380" cy="250" r="1.2" fill="#e8922a"/>
<circle cx="377.5" cy="252" r="1.2" fill="#e8922a"/>
<circle cx="374" cy="254" r="1.2" fill="#e8922a"/>
<circle cx="380" cy="254" r="1.2" fill="#e8922a"/>
<line x1="377.75" y1="240.78" x2="377.75" y2="256.02" stroke="#3d3833" stroke-width="1.05"/>
<line x1="374.75" y1="240.78" x2="380.75" y2="240.78" stroke="#3d3833" stroke-width="1.05"/>
<line x1="374.75" y1="256.02" x2="380.75" y2="256.02" stroke="#3d3833" stroke-width="1.05"/>
<line x1="59" y1="207.5" x2="74" y2="207.5" stroke="#222" stroke-width="1.15"/>
<text x="66.5" y="208.3" font-size="6.4" text-anchor="middle" fill="#222">*</text>
<line x1="127" y1="181.25" x2="173.75" y2="181.25" stroke="#222" stroke-width="1.15"/>
<text x="150.38" y="182.05" font-size="6.4" text-anchor="middle" fill="#222">**</text>
<line x1="158.75" y1="172.5" x2="173.75" y2="172.5" stroke="#222" stroke-width="1.15"/>
<text x="166.25" y="173.3" font-size="6.4" text-anchor="middle" fill="#222">***</text>
<line x1="195.5" y1="166.25" x2="241.25" y2="166.25" stroke="#222" stroke-width="1.15"/>
<text x="218.38" y="167.05" font-size="6.4" text-anchor="middle" fill="#222">****</text>
<line x1="227.5" y1="175.75" x2="241.25" y2="175.75" stroke="#222" stroke-width="1.15"/>
<text x="234.38" y="176.55" font-size="6.4" text-anchor="middle" fill="#222">***</text>
<line x1="195.5" y1="180" x2="226.25" y2="180" stroke="#222" stroke-width="1.15"/>
<text x="210.88" y="180.8" font-size="6.4" text-anchor="middle" fill="#222">*</text>
<line x1="210" y1="187" x2="226.25" y2="187" stroke="#222" stroke-width="1.15"/>
<text x="218.12" y="187.8" font-size="6.4" text-anchor="middle" fill="#222">***</text>
<line x1="195.5" y1="193.25" x2="210" y2="193.25" stroke="#222" stroke-width="1.15"/>
<text x="202.75" y="194.05" font-size="6.4" text-anchor="middle" fill="#222">****</text>
<line x1="332" y1="160.75" x2="378" y2="160.75" stroke="#222" stroke-width="1.15"/>
<text x="355" y="161.55" font-size="6.4" text-anchor="middle" fill="#222">****</text>
<line x1="346.25" y1="168" x2="378" y2="168" stroke="#1a1a1a" stroke-width="0.9"/>
<text x="353.75" y="166.8" font-size="6" text-anchor="middle" fill="#383838">*</text>
<text x="370" y="166.8" font-size="6" text-anchor="middle" fill="#383838">****</text>
<text x="11.2" y="287.7" font-size="11" text-anchor="middle" fill="#111" font-weight="bold" stroke="#111" stroke-width="0.35">D</text>
<text x="287" y="288.8" font-size="8.6" text-anchor="middle" fill="#222" textLength="100.5" lengthAdjust="spacingAndGlyphs">25 HSC primary recipients</text>
<line x1="45" y1="309.75" x2="45" y2="389.35" stroke="#1a1a1a" stroke-width="1.2"/>
<line x1="42.5" y1="388.75" x2="45" y2="388.75" stroke="#1a1a1a" stroke-width="0.9"/>
<text x="38.7" y="391.23" font-size="6.9" text-anchor="end" fill="#383838">0</text>
<line x1="42.5" y1="373.25" x2="45" y2="373.25" stroke="#1a1a1a" stroke-width="0.9"/>
<text x="38.7" y="375.73" font-size="6.9" text-anchor="end" fill="#383838">20</text>
<line x1="42.5" y1="357.75" x2="45" y2="357.75" stroke="#1a1a1a" stroke-width="0.9"/>
<text x="38.7" y="360.23" font-size="6.9" text-anchor="end" fill="#383838">40</text>
<line x1="42.5" y1="342.25" x2="45" y2="342.25" stroke="#1a1a1a" stroke-width="0.9"/>
<text x="38.7" y="344.73" font-size="6.9" text-anchor="end" fill="#383838">60</text>
<line x1="42.5" y1="326.75" x2="45" y2="326.75" stroke="#1a1a1a" stroke-width="0.9"/>
<text x="38.7" y="329.23" font-size="6.9" text-anchor="end" fill="#383838">80</text>
<line x1="42.5" y1="311.25" x2="45" y2="311.25" stroke="#1a1a1a" stroke-width="0.9"/>
<text x="38.7" y="313.73" font-size="6.9" text-anchor="end" fill="#383838">100</text>
<line x1="44.4" y1="388.75" x2="121.5" y2="388.75" stroke="#1a1a1a" stroke-width="1.4"/>
<line x1="54.25" y1="388.75" x2="54.25" y2="391.75" stroke="#1a1a1a" stroke-width="0.9"/>
<text x="54.25" y="400.95" font-size="6.8" text-anchor="middle" fill="#333">4</text>
<line x1="73.75" y1="388.75" x2="73.75" y2="391.75" stroke="#1a1a1a" stroke-width="0.9"/>
<text x="73.75" y="400.95" font-size="6.8" text-anchor="middle" fill="#333">8</text>
<line x1="93" y1="388.75" x2="93" y2="391.75" stroke="#1a1a1a" stroke-width="0.9"/>
<text x="93" y="400.95" font-size="6.8" text-anchor="middle" fill="#333">12</text>
<line x1="112.5" y1="388.75" x2="112.5" y2="391.75" stroke="#1a1a1a" stroke-width="0.9"/>
<text x="112.5" y="400.95" font-size="6.8" text-anchor="middle" fill="#333">16</text>
<text x="83.3" y="304" font-size="8.4" text-anchor="middle" fill="#222" textLength="57" lengthAdjust="spacingAndGlyphs">All CD45<tspan font-size="5" dy="-3">+</tspan><tspan dy="3"> cells</tspan></text>
<text transform="translate(23.3,349.5) rotate(-90)" font-size="8.4" text-anchor="middle" fill="#333" textLength="56.5" lengthAdjust="spacingAndGlyphs">% of donor-derived</text>
<line x1="54.25" y1="385.65" x2="54.25" y2="383.32" stroke="#7f9cc6" stroke-width="0.65"/>
<line x1="52.75" y1="383.32" x2="55.75" y2="383.32" stroke="#7f9cc6" stroke-width="0.9"/>
<line x1="73.75" y1="382.16" x2="73.75" y2="376.35" stroke="#7f9cc6" stroke-width="0.65"/>
<line x1="72.25" y1="376.35" x2="75.25" y2="376.35" stroke="#7f9cc6" stroke-width="0.9"/>
<line x1="93" y1="378.68" x2="93" y2="370.15" stroke="#7f9cc6" stroke-width="0.65"/>
<line x1="91.5" y1="370.15" x2="94.5" y2="370.15" stroke="#7f9cc6" stroke-width="0.9"/>
<line x1="112.5" y1="378.68" x2="112.5" y2="360.85" stroke="#7f9cc6" stroke-width="0.65"/>
<line x1="111" y1="360.85" x2="114" y2="360.85" stroke="#7f9cc6" stroke-width="0.9"/>
<line x1="54.25" y1="374.8" x2="54.25" y2="367.05" stroke="#9ccf9f" stroke-width="0.65"/>
<line x1="52.75" y1="367.05" x2="55.75" y2="367.05" stroke="#9ccf9f" stroke-width="0.9"/>
<line x1="73.75" y1="374.02" x2="73.75" y2="363.95" stroke="#9ccf9f" stroke-width="0.65"/>
<line x1="72.25" y1="363.95" x2="75.25" y2="363.95" stroke="#9ccf9f" stroke-width="0.9"/>
<line x1="93" y1="370.93" x2="93" y2="359.3" stroke="#9ccf9f" stroke-width="0.65"/>
<line x1="91.5" y1="359.3" x2="94.5" y2="359.3" stroke="#9ccf9f" stroke-width="0.9"/>
<line x1="112.5" y1="369.76" x2="112.5" y2="354.65" stroke="#9ccf9f" stroke-width="0.65"/>
<line x1="111" y1="354.65" x2="114" y2="354.65" stroke="#9ccf9f" stroke-width="0.9"/>
<line x1="54.25" y1="367.82" x2="54.25" y2="364.73" stroke="#f8d49a" stroke-width="0.65"/>
<line x1="52.75" y1="364.73" x2="55.75" y2="364.73" stroke="#f8d49a" stroke-width="0.9"/>
<line x1="73.75" y1="361.24" x2="73.75" y2="353.1" stroke="#f8d49a" stroke-width="0.65"/>
<line x1="72.25" y1="353.1" x2="75.25" y2="353.1" stroke="#f8d49a" stroke-width="0.9"/>
<line x1="93" y1="358.52" x2="93" y2="345.35" stroke="#f8d49a" stroke-width="0.65"/>
<line x1="91.5" y1="345.35" x2="94.5" y2="345.35" stroke="#f8d49a" stroke-width="0.9"/>
<line x1="112.5" y1="357.75" x2="112.5" y2="350" stroke="#f8d49a" stroke-width="0.65"/>
<line x1="111" y1="350" x2="114" y2="350" stroke="#f8d49a" stroke-width="0.9"/>
<line x1="54.25" y1="366.27" x2="54.25" y2="355.43" stroke="#cc6279" stroke-width="0.65"/>
<line x1="52.75" y1="355.43" x2="55.75" y2="355.43" stroke="#cc6279" stroke-width="0.9"/>
<line x1="73.75" y1="348.06" x2="73.75" y2="329.85" stroke="#cc6279" stroke-width="0.65"/>
<line x1="72.25" y1="329.85" x2="75.25" y2="329.85" stroke="#cc6279" stroke-width="0.9"/>
<line x1="93" y1="345.35" x2="93" y2="325.98" stroke="#cc6279" stroke-width="0.65"/>
<line x1="91.5" y1="325.98" x2="94.5" y2="325.98" stroke="#cc6279" stroke-width="0.9"/>
<line x1="112.5" y1="347.68" x2="112.5" y2="328.3" stroke="#cc6279" stroke-width="0.65"/>
<line x1="111" y1="328.3" x2="114" y2="328.3" stroke="#cc6279" stroke-width="0.9"/>
<polyline points="54.25,385.65 73.75,382.16 93,378.68 112.5,378.68" fill="none" stroke="#23508f" stroke-width="1.15" stroke-linejoin="round"/>
<circle cx="54.25" cy="385.65" r="1.2" fill="#23508f"/>
<circle cx="73.75" cy="382.16" r="1.2" fill="#23508f"/>
<circle cx="93" cy="378.68" r="1.2" fill="#23508f"/>
<circle cx="112.5" cy="378.68" r="1.2" fill="#23508f"/>
<polyline points="54.25,374.8 73.75,374.02 93,370.93 112.5,369.76" fill="none" stroke="#3f9e47" stroke-width="1.15" stroke-linejoin="round"/>
<circle cx="54.25" cy="374.8" r="1.2" fill="#3f9e47"/>
<circle cx="73.75" cy="374.02" r="1.2" fill="#3f9e47"/>
<circle cx="93" cy="370.93" r="1.2" fill="#3f9e47"/>
<circle cx="112.5" cy="369.76" r="1.2" fill="#3f9e47"/>
<polyline points="54.25,367.82 73.75,361.24 93,358.52 112.5,357.75" fill="none" stroke="#f4b24e" stroke-width="1.15" stroke-linejoin="round"/>
<circle cx="54.25" cy="367.82" r="1.2" fill="#f4b24e"/>
<circle cx="73.75" cy="361.24" r="1.2" fill="#f4b24e"/>
<circle cx="93" cy="358.52" r="1.2" fill="#f4b24e"/>
<circle cx="112.5" cy="357.75" r="1.2" fill="#f4b24e"/>
<polyline points="54.25,366.27 73.75,348.06 93,345.35 112.5,347.68" fill="none" stroke="#b8193c" stroke-width="1.15" stroke-linejoin="round"/>
<circle cx="54.25" cy="366.27" r="1.2" fill="#b8193c"/>
<circle cx="73.75" cy="348.06" r="1.2" fill="#b8193c"/>
<circle cx="93" cy="345.35" r="1.2" fill="#b8193c"/>
<circle cx="112.5" cy="347.68" r="1.2" fill="#b8193c"/>
<text x="54.4" y="355.5" font-size="7" text-anchor="middle" fill="#c3102f">*</text>
<text x="73.5" y="327.3" font-size="7" text-anchor="middle" fill="#c3102f">*</text>
<text x="73.5" y="331.5" font-size="7" text-anchor="middle" fill="#c3102f">**</text>
<text x="92.8" y="327.3" font-size="7" text-anchor="middle" fill="#c3102f">**</text>
<text x="112.4" y="329.7" font-size="7" text-anchor="middle" fill="#c3102f">*</text>
<line x1="115.5" y1="348.75" x2="115.5" y2="357.4" stroke="#1a1a1a" stroke-width="0.9"/>
<line x1="115.5" y1="353" x2="118.5" y2="353" stroke="#1a1a1a" stroke-width="0.9"/>
<line x1="118.5" y1="353" x2="118.5" y2="379.5" stroke="#1a1a1a" stroke-width="0.9"/>
<line x1="115.5" y1="379.5" x2="118.5" y2="379.5" stroke="#1a1a1a" stroke-width="0.9"/>
<line x1="123.4" y1="348.75" x2="123.4" y2="357.4" stroke="#1a1a1a" stroke-width="0.9"/>
<line x1="123.4" y1="353" x2="126.7" y2="353" stroke="#1a1a1a" stroke-width="0.9"/>
<line x1="126.7" y1="353" x2="126.7" y2="379.5" stroke="#1a1a1a" stroke-width="0.9"/>
<line x1="123.4" y1="379.5" x2="126.7" y2="379.5" stroke="#1a1a1a" stroke-width="0.9"/>
<line x1="124.5" y1="369" x2="126.7" y2="369" stroke="#1a1a1a" stroke-width="0.9"/>
<text transform="translate(122.5,365) rotate(-90)" font-size="5.5" text-anchor="middle" fill="#23508f">**</text>
<text x="130" y="362.8" font-size="5.5" text-anchor="middle" fill="#555">*</text>
<text x="130" y="376.7" font-size="5.5" text-anchor="middle" fill="#555">*</text>
<line x1="176.25" y1="309.75" x2="176.25" y2="389.35" stroke="#1a1a1a" stroke-width="1.2"/>
<line x1="173.75" y1="388.75" x2="176.25" y2="388.75" stroke="#1a1a1a" stroke-width="0.9"/>
<text x="169.95" y="391.23" font-size="6.9" text-anchor="end" fill="#383838">0</text>
<line x1="173.75" y1="375.83" x2="176.25" y2="375.83" stroke="#1a1a1a" stroke-width="0.9"/>
<text x="169.95" y="378.32" font-size="6.9" text-anchor="end" fill="#383838">20</text>
<line x1="173.75" y1="362.92" x2="176.25" y2="362.92" stroke="#1a1a1a" stroke-width="0.9"/>
<text x="169.95" y="365.4" font-size="6.9" text-anchor="end" fill="#383838">40</text>
<line x1="173.75" y1="350" x2="176.25" y2="350" stroke="#1a1a1a" stroke-width="0.9"/>
<text x="169.95" y="352.48" font-size="6.9" text-anchor="end" fill="#383838">60</text>
<line x1="173.75" y1="337.08" x2="176.25" y2="337.08" stroke="#1a1a1a" stroke-width="0.9"/>
<text x="169.95" y="339.57" font-size="6.9" text-anchor="end" fill="#383838">80</text>
<line x1="173.75" y1="324.17" x2="176.25" y2="324.17" stroke="#1a1a1a" stroke-width="0.9"/>
<text x="169.95" y="326.65" font-size="6.9" text-anchor="end" fill="#383838">100</text>
<line x1="173.75" y1="311.25" x2="176.25" y2="311.25" stroke="#1a1a1a" stroke-width="0.9"/>
<text x="169.95" y="313.73" font-size="6.9" text-anchor="end" fill="#383838">120</text>
<line x1="175.65" y1="388.75" x2="253.5" y2="388.75" stroke="#1a1a1a" stroke-width="1.4"/>
<line x1="186.25" y1="388.75" x2="186.25" y2="391.75" stroke="#1a1a1a" stroke-width="0.9"/>
<text x="186.25" y="400.95" font-size="6.8" text-anchor="middle" fill="#333">4</text>
<line x1="205.5" y1="388.75" x2="205.5" y2="391.75" stroke="#1a1a1a" stroke-width="0.9"/>
<text x="205.5" y="400.95" font-size="6.8" text-anchor="middle" fill="#333">8</text>
<line x1="224.5" y1="388.75" x2="224.5" y2="391.75" stroke="#1a1a1a" stroke-width="0.9"/>
<text x="224.5" y="400.95" font-size="6.8" text-anchor="middle" fill="#333">12</text>
<line x1="243.75" y1="388.75" x2="243.75" y2="391.75" stroke="#1a1a1a" stroke-width="0.9"/>
<text x="243.75" y="400.95" font-size="6.8" text-anchor="middle" fill="#333">16</text>
<text x="215" y="304" font-size="8.4" text-anchor="middle" fill="#222" textLength="50" lengthAdjust="spacingAndGlyphs">Myeloid cells</text>
<text transform="translate(155,349.5) rotate(-90)" font-size="8.4" text-anchor="middle" fill="#333" textLength="56.5" lengthAdjust="spacingAndGlyphs">% of donor-derived</text>
<line x1="186.25" y1="379.71" x2="186.25" y2="370.02" stroke="#7f9cc6" stroke-width="0.65"/>
<line x1="184.75" y1="370.02" x2="187.75" y2="370.02" stroke="#7f9cc6" stroke-width="0.9"/>
<line x1="205.5" y1="378.42" x2="205.5" y2="356.46" stroke="#7f9cc6" stroke-width="0.65"/>
<line x1="204" y1="356.46" x2="207" y2="356.46" stroke="#7f9cc6" stroke-width="0.9"/>
<line x1="224.5" y1="379.39" x2="224.5" y2="357.75" stroke="#7f9cc6" stroke-width="0.65"/>
<line x1="223" y1="357.75" x2="226" y2="357.75" stroke="#7f9cc6" stroke-width="0.9"/>
<line x1="243.75" y1="379.71" x2="243.75" y2="357.75" stroke="#7f9cc6" stroke-width="0.65"/>
<line x1="242.25" y1="357.75" x2="245.25" y2="357.75" stroke="#7f9cc6" stroke-width="0.9"/>
<line x1="186.25" y1="363.56" x2="186.25" y2="337.08" stroke="#9ccf9f" stroke-width="0.65"/>
<line x1="184.75" y1="337.08" x2="187.75" y2="337.08" stroke="#9ccf9f" stroke-width="0.9"/>
<line x1="205.5" y1="357.75" x2="205.5" y2="335.79" stroke="#9ccf9f" stroke-width="0.65"/>
<line x1="204" y1="335.79" x2="207" y2="335.79" stroke="#9ccf9f" stroke-width="0.9"/>
<line x1="224.5" y1="354.52" x2="224.5" y2="334.5" stroke="#9ccf9f" stroke-width="0.65"/>
<line x1="223" y1="334.5" x2="226" y2="334.5" stroke="#9ccf9f" stroke-width="0.9"/>
<line x1="243.75" y1="354.2" x2="243.75" y2="337.08" stroke="#9ccf9f" stroke-width="0.65"/>
<line x1="242.25" y1="337.08" x2="245.25" y2="337.08" stroke="#9ccf9f" stroke-width="0.9"/>
<line x1="186.25" y1="339.02" x2="186.25" y2="320.94" stroke="#f8d49a" stroke-width="0.65"/>
<line x1="184.75" y1="320.94" x2="187.75" y2="320.94" stroke="#f8d49a" stroke-width="0.9"/>
<line x1="205.5" y1="335.15" x2="205.5" y2="317.71" stroke="#f8d49a" stroke-width="0.65"/>
<line x1="204" y1="317.71" x2="207" y2="317.71" stroke="#f8d49a" stroke-width="0.9"/>
<line x1="224.5" y1="342.25" x2="224.5" y2="319" stroke="#f8d49a" stroke-width="0.65"/>
<line x1="223" y1="319" x2="226" y2="319" stroke="#f8d49a" stroke-width="0.9"/>
<line x1="243.75" y1="341.6" x2="243.75" y2="320.94" stroke="#f8d49a" stroke-width="0.65"/>
<line x1="242.25" y1="320.94" x2="245.25" y2="320.94" stroke="#f8d49a" stroke-width="0.9"/>
<line x1="186.25" y1="341.6" x2="186.25" y2="313.83" stroke="#cc6279" stroke-width="0.65"/>
<line x1="184.75" y1="313.83" x2="187.75" y2="313.83" stroke="#cc6279" stroke-width="0.9"/>
<line x1="205.5" y1="334.82" x2="205.5" y2="313.83" stroke="#cc6279" stroke-width="0.65"/>
<line x1="204" y1="313.83" x2="207" y2="313.83" stroke="#cc6279" stroke-width="0.9"/>
<line x1="224.5" y1="335.15" x2="224.5" y2="313.19" stroke="#cc6279" stroke-width="0.65"/>
<line x1="223" y1="313.19" x2="226" y2="313.19" stroke="#cc6279" stroke-width="0.9"/>
<line x1="243.75" y1="340.96" x2="243.75" y2="313.83" stroke="#cc6279" stroke-width="0.65"/>
<line x1="242.25" y1="313.83" x2="245.25" y2="313.83" stroke="#cc6279" stroke-width="0.9"/>
<polyline points="186.25,379.71 205.5,378.42 224.5,379.39 243.75,379.71" fill="none" stroke="#23508f" stroke-width="1.15" stroke-linejoin="round"/>
<circle cx="186.25" cy="379.71" r="1.2" fill="#23508f"/>
<circle cx="205.5" cy="378.42" r="1.2" fill="#23508f"/>
<circle cx="224.5" cy="379.39" r="1.2" fill="#23508f"/>
<circle cx="243.75" cy="379.71" r="1.2" fill="#23508f"/>
<polyline points="186.25,363.56 205.5,357.75 224.5,354.52 243.75,354.2" fill="none" stroke="#3f9e47" stroke-width="1.15" stroke-linejoin="round"/>
<circle cx="186.25" cy="363.56" r="1.2" fill="#3f9e47"/>
<circle cx="205.5" cy="357.75" r="1.2" fill="#3f9e47"/>
<circle cx="224.5" cy="354.52" r="1.2" fill="#3f9e47"/>
<circle cx="243.75" cy="354.2" r="1.2" fill="#3f9e47"/>
<polyline points="186.25,339.02 205.5,335.15 224.5,342.25 243.75,341.6" fill="none" stroke="#f4b24e" stroke-width="1.15" stroke-linejoin="round"/>
<circle cx="186.25" cy="339.02" r="1.2" fill="#f4b24e"/>
<circle cx="205.5" cy="335.15" r="1.2" fill="#f4b24e"/>
<circle cx="224.5" cy="342.25" r="1.2" fill="#f4b24e"/>
<circle cx="243.75" cy="341.6" r="1.2" fill="#f4b24e"/>
<polyline points="186.25,341.6 205.5,334.82 224.5,335.15 243.75,340.96" fill="none" stroke="#b8193c" stroke-width="1.15" stroke-linejoin="round"/>
<circle cx="186.25" cy="341.6" r="1.2" fill="#b8193c"/>
<circle cx="205.5" cy="334.82" r="1.2" fill="#b8193c"/>
<circle cx="224.5" cy="335.15" r="1.2" fill="#b8193c"/>
<circle cx="243.75" cy="340.96" r="1.2" fill="#b8193c"/>
<text x="186.25" y="316.5" font-size="7" text-anchor="middle" fill="#c3102f">*</text>
<text x="186.25" y="328" font-size="7" text-anchor="middle" fill="#c3102f">*</text>
<text x="205.5" y="316.5" font-size="7" text-anchor="middle" fill="#c3102f">*</text>
<text x="205.5" y="328" font-size="7" text-anchor="middle" fill="#c3102f">*</text>
<text x="224.5" y="316.5" font-size="7" text-anchor="middle" fill="#c3102f">*</text>
<text x="224.5" y="328" font-size="7" text-anchor="middle" fill="#c3102f">*</text>
<text x="243.75" y="316.5" font-size="7" text-anchor="middle" fill="#c3102f">*</text>
<text x="243.75" y="328" font-size="7" text-anchor="middle" fill="#c3102f">*</text>
<text x="209.5" y="318" font-size="5.5" text-anchor="middle" fill="#f4b24e">*</text>
<text x="209.5" y="323.5" font-size="5.5" text-anchor="middle" fill="#c3102f">*</text>
<text x="228.5" y="318" font-size="5.5" text-anchor="middle" fill="#f4b24e">*</text>
<text x="228.5" y="323.5" font-size="5.5" text-anchor="middle" fill="#c3102f">*</text>
<text x="247.75" y="318" font-size="5.5" text-anchor="middle" fill="#f4b24e">*</text>
<text x="247.75" y="323.5" font-size="5.5" text-anchor="middle" fill="#c3102f">*</text>
<text x="186.25" y="322" font-size="7" text-anchor="middle" fill="#c3102f">*</text>
<line x1="248.5" y1="337.6" x2="248.5" y2="344.9" stroke="#1a1a1a" stroke-width="0.9"/>
<line x1="248.5" y1="341.5" x2="251.1" y2="341.5" stroke="#1a1a1a" stroke-width="0.9"/>
<line x1="251.1" y1="341.5" x2="251.1" y2="379.8" stroke="#1a1a1a" stroke-width="0.9"/>
<line x1="248.5" y1="379.8" x2="251.1" y2="379.8" stroke="#1a1a1a" stroke-width="0.9"/>
<line x1="256.4" y1="337.6" x2="256.4" y2="344.9" stroke="#1a1a1a" stroke-width="0.9"/>
<line x1="256.4" y1="341.5" x2="259.3" y2="341.5" stroke="#1a1a1a" stroke-width="0.9"/>
<line x1="259.3" y1="341.5" x2="259.3" y2="379.8" stroke="#1a1a1a" stroke-width="0.9"/>
<line x1="256.4" y1="379.8" x2="259.3" y2="379.8" stroke="#1a1a1a" stroke-width="0.9"/>
<line x1="257.3" y1="354" x2="259.3" y2="354" stroke="#1a1a1a" stroke-width="0.9"/>
<text transform="translate(254.4,362.5) rotate(-90)" font-size="5.5" text-anchor="middle" fill="#23508f">***</text>
<text x="263" y="349" font-size="5.5" text-anchor="middle" fill="#555">*</text>
<text x="263" y="369.5" font-size="5.5" text-anchor="middle" fill="#555">*</text>
<line x1="309.5" y1="309.75" x2="309.5" y2="389.35" stroke="#1a1a1a" stroke-width="1.2"/>
<line x1="307" y1="388.75" x2="309.5" y2="388.75" stroke="#1a1a1a" stroke-width="0.9"/>
<text x="303.2" y="391.23" font-size="6.9" text-anchor="end" fill="#383838">0</text>
<line x1="307" y1="375.83" x2="309.5" y2="375.83" stroke="#1a1a1a" stroke-width="0.9"/>
<text x="303.2" y="378.32" font-size="6.9" text-anchor="end" fill="#383838">20</text>
<line x1="307" y1="362.92" x2="309.5" y2="362.92" stroke="#1a1a1a" stroke-width="0.9"/>
<text x="303.2" y="365.4" font-size="6.9" text-anchor="end" fill="#383838">40</text>
<line x1="307" y1="350" x2="309.5" y2="350" stroke="#1a1a1a" stroke-width="0.9"/>
<text x="303.2" y="352.48" font-size="6.9" text-anchor="end" fill="#383838">60</text>
<line x1="307" y1="337.08" x2="309.5" y2="337.08" stroke="#1a1a1a" stroke-width="0.9"/>
<text x="303.2" y="339.57" font-size="6.9" text-anchor="end" fill="#383838">80</text>
<line x1="307" y1="324.17" x2="309.5" y2="324.17" stroke="#1a1a1a" stroke-width="0.9"/>
<text x="303.2" y="326.65" font-size="6.9" text-anchor="end" fill="#383838">100</text>
<line x1="307" y1="311.25" x2="309.5" y2="311.25" stroke="#1a1a1a" stroke-width="0.9"/>
<text x="303.2" y="313.73" font-size="6.9" text-anchor="end" fill="#383838">120</text>
<line x1="308.9" y1="388.75" x2="386.8" y2="388.75" stroke="#1a1a1a" stroke-width="1.4"/>
<line x1="318.75" y1="388.75" x2="318.75" y2="391.75" stroke="#1a1a1a" stroke-width="0.9"/>
<text x="318.75" y="400.95" font-size="6.8" text-anchor="middle" fill="#333">4</text>
<line x1="338.25" y1="388.75" x2="338.25" y2="391.75" stroke="#1a1a1a" stroke-width="0.9"/>
<text x="338.25" y="400.95" font-size="6.8" text-anchor="middle" fill="#333">8</text>
<line x1="358.25" y1="388.75" x2="358.25" y2="391.75" stroke="#1a1a1a" stroke-width="0.9"/>
<text x="358.25" y="400.95" font-size="6.8" text-anchor="middle" fill="#333">12</text>
<line x1="377" y1="388.75" x2="377" y2="391.75" stroke="#1a1a1a" stroke-width="0.9"/>
<text x="377" y="400.95" font-size="6.8" text-anchor="middle" fill="#333">16</text>
<text x="348" y="304" font-size="8.4" text-anchor="middle" fill="#222" textLength="23.75" lengthAdjust="spacingAndGlyphs">B cells</text>
<text transform="translate(288.3,349.5) rotate(-90)" font-size="8.4" text-anchor="middle" fill="#333" textLength="56.5" lengthAdjust="spacingAndGlyphs">% of donor-derived</text>
<line x1="318.75" y1="388.75" x2="318.75" y2="386.17" stroke="#7f9cc6" stroke-width="0.65"/>
<line x1="317.25" y1="386.17" x2="320.25" y2="386.17" stroke="#7f9cc6" stroke-width="0.9"/>
<line x1="338.25" y1="381.97" x2="338.25" y2="373.25" stroke="#7f9cc6" stroke-width="0.65"/>
<line x1="336.75" y1="373.25" x2="339.75" y2="373.25" stroke="#7f9cc6" stroke-width="0.9"/>
<line x1="358.25" y1="380.03" x2="358.25" y2="365.5" stroke="#7f9cc6" stroke-width="0.65"/>
<line x1="356.75" y1="365.5" x2="359.75" y2="365.5" stroke="#7f9cc6" stroke-width="0.9"/>
<line x1="377" y1="380.03" x2="377" y2="361.62" stroke="#7f9cc6" stroke-width="0.65"/>
<line x1="375.5" y1="361.62" x2="378.5" y2="361.62" stroke="#7f9cc6" stroke-width="0.9"/>
<line x1="318.75" y1="382.94" x2="318.75" y2="377.12" stroke="#9ccf9f" stroke-width="0.65"/>
<line x1="317.25" y1="377.12" x2="320.25" y2="377.12" stroke="#9ccf9f" stroke-width="0.9"/>
<line x1="338.25" y1="376.48" x2="338.25" y2="366.15" stroke="#9ccf9f" stroke-width="0.65"/>
<line x1="336.75" y1="366.15" x2="339.75" y2="366.15" stroke="#9ccf9f" stroke-width="0.9"/>
<line x1="358.25" y1="374.54" x2="358.25" y2="359.69" stroke="#9ccf9f" stroke-width="0.65"/>
<line x1="356.75" y1="359.69" x2="359.75" y2="359.69" stroke="#9ccf9f" stroke-width="0.9"/>
<line x1="377" y1="374.54" x2="377" y2="359.69" stroke="#9ccf9f" stroke-width="0.65"/>
<line x1="375.5" y1="359.69" x2="378.5" y2="359.69" stroke="#9ccf9f" stroke-width="0.9"/>
<line x1="318.75" y1="373.25" x2="318.75" y2="362.92" stroke="#f8d49a" stroke-width="0.65"/>
<line x1="317.25" y1="362.92" x2="320.25" y2="362.92" stroke="#f8d49a" stroke-width="0.9"/>
<line x1="338.25" y1="351.94" x2="338.25" y2="333.85" stroke="#f8d49a" stroke-width="0.65"/>
<line x1="336.75" y1="333.85" x2="339.75" y2="333.85" stroke="#f8d49a" stroke-width="0.9"/>
<line x1="358.25" y1="355.81" x2="358.25" y2="337.08" stroke="#f8d49a" stroke-width="0.65"/>
<line x1="356.75" y1="337.08" x2="359.75" y2="337.08" stroke="#f8d49a" stroke-width="0.9"/>
<line x1="377" y1="357.1" x2="377" y2="338.38" stroke="#f8d49a" stroke-width="0.65"/>
<line x1="375.5" y1="338.38" x2="378.5" y2="338.38" stroke="#f8d49a" stroke-width="0.9"/>
<line x1="318.75" y1="368.08" x2="318.75" y2="347.42" stroke="#cc6279" stroke-width="0.65"/>
<line x1="317.25" y1="347.42" x2="320.25" y2="347.42" stroke="#cc6279" stroke-width="0.9"/>
<line x1="338.25" y1="341.28" x2="338.25" y2="324.17" stroke="#cc6279" stroke-width="0.65"/>
<line x1="336.75" y1="324.17" x2="339.75" y2="324.17" stroke="#cc6279" stroke-width="0.9"/>
<line x1="358.25" y1="342.25" x2="358.25" y2="324.17" stroke="#cc6279" stroke-width="0.65"/>
<line x1="356.75" y1="324.17" x2="359.75" y2="324.17" stroke="#cc6279" stroke-width="0.9"/>
<line x1="377" y1="342.9" x2="377" y2="324.17" stroke="#cc6279" stroke-width="0.65"/>
<line x1="375.5" y1="324.17" x2="378.5" y2="324.17" stroke="#cc6279" stroke-width="0.9"/>
<polyline points="318.75,388.75 338.25,381.97 358.25,380.03 377,380.03" fill="none" stroke="#23508f" stroke-width="1.15" stroke-linejoin="round"/>
<circle cx="318.75" cy="388.75" r="1.2" fill="#23508f"/>
<circle cx="338.25" cy="381.97" r="1.2" fill="#23508f"/>
<circle cx="358.25" cy="380.03" r="1.2" fill="#23508f"/>
<circle cx="377" cy="380.03" r="1.2" fill="#23508f"/>
<polyline points="318.75,382.94 338.25,376.48 358.25,374.54 377,374.54" fill="none" stroke="#3f9e47" stroke-width="1.15" stroke-linejoin="round"/>
<circle cx="318.75" cy="382.94" r="1.2" fill="#3f9e47"/>
<circle cx="338.25" cy="376.48" r="1.2" fill="#3f9e47"/>
<circle cx="358.25" cy="374.54" r="1.2" fill="#3f9e47"/>
<circle cx="377" cy="374.54" r="1.2" fill="#3f9e47"/>
<polyline points="318.75,373.25 338.25,351.94 358.25,355.81 377,357.1" fill="none" stroke="#f4b24e" stroke-width="1.15" stroke-linejoin="round"/>
<circle cx="318.75" cy="373.25" r="1.2" fill="#f4b24e"/>
<circle cx="338.25" cy="351.94" r="1.2" fill="#f4b24e"/>
<circle cx="358.25" cy="355.81" r="1.2" fill="#f4b24e"/>
<circle cx="377" cy="357.1" r="1.2" fill="#f4b24e"/>
<polyline points="318.75,368.08 338.25,341.28 358.25,342.25 377,342.9" fill="none" stroke="#b8193c" stroke-width="1.15" stroke-linejoin="round"/>
<circle cx="318.75" cy="368.08" r="1.2" fill="#b8193c"/>
<circle cx="338.25" cy="341.28" r="1.2" fill="#b8193c"/>
<circle cx="358.25" cy="342.25" r="1.2" fill="#b8193c"/>
<circle cx="377" cy="342.9" r="1.2" fill="#b8193c"/>
<text x="318.75" y="343" font-size="7" text-anchor="middle" fill="#f4b24e">**</text>
<text x="318.75" y="347.5" font-size="7" text-anchor="middle" fill="#c3102f">**</text>
<text x="338.25" y="316" font-size="7" text-anchor="middle" fill="#c3102f">**</text>
<text x="338.25" y="321.5" font-size="7" text-anchor="middle" fill="#c3102f">#</text>
<text x="358.25" y="321" font-size="7" text-anchor="middle" fill="#c3102f">*</text>
<text x="377" y="321" font-size="7" text-anchor="middle" fill="#c3102f">*</text>
<line x1="380.4" y1="343.5" x2="380.4" y2="357.4" stroke="#1a1a1a" stroke-width="0.9"/>
<line x1="380.4" y1="350.2" x2="383.6" y2="350.2" stroke="#1a1a1a" stroke-width="0.9"/>
<line x1="383.6" y1="350.2" x2="383.6" y2="380" stroke="#1a1a1a" stroke-width="0.9"/>
<line x1="380.4" y1="380" x2="383.6" y2="380" stroke="#1a1a1a" stroke-width="0.9"/>
<line x1="380.4" y1="343.5" x2="380.4" y2="357.4" stroke="#3f9e47" stroke-width="0.9"/>
<line x1="387.3" y1="343" x2="390.2" y2="343" stroke="#1a1a1a" stroke-width="0.9"/>
<line x1="390.2" y1="343" x2="390.2" y2="374.4" stroke="#1a1a1a" stroke-width="0.9"/>
<line x1="387.3" y1="374.4" x2="390.2" y2="374.4" stroke="#1a1a1a" stroke-width="0.9"/>
<text transform="translate(387.5,364.6) rotate(-90)" font-size="5.5" text-anchor="middle" fill="#23508f">**</text>
<text transform="translate(394.8,358.8) rotate(-90)" font-size="5.5" text-anchor="middle" fill="#c3102f">**</text>
<line x1="435.75" y1="309.75" x2="435.75" y2="389.35" stroke="#1a1a1a" stroke-width="1.2"/>
<line x1="433.25" y1="388.75" x2="435.75" y2="388.75" stroke="#1a1a1a" stroke-width="0.9"/>
<text x="429.45" y="391.23" font-size="6.9" text-anchor="end" fill="#383838">0</text>
<line x1="433.25" y1="373.25" x2="435.75" y2="373.25" stroke="#1a1a1a" stroke-width="0.9"/>
<text x="429.45" y="375.73" font-size="6.9" text-anchor="end" fill="#383838">10</text>
<line x1="433.25" y1="357.75" x2="435.75" y2="357.75" stroke="#1a1a1a" stroke-width="0.9"/>
<text x="429.45" y="360.23" font-size="6.9" text-anchor="end" fill="#383838">20</text>
<line x1="433.25" y1="342.25" x2="435.75" y2="342.25" stroke="#1a1a1a" stroke-width="0.9"/>
<text x="429.45" y="344.73" font-size="6.9" text-anchor="end" fill="#383838">30</text>
<line x1="433.25" y1="326.75" x2="435.75" y2="326.75" stroke="#1a1a1a" stroke-width="0.9"/>
<text x="429.45" y="329.23" font-size="6.9" text-anchor="end" fill="#383838">40</text>
<line x1="433.25" y1="311.25" x2="435.75" y2="311.25" stroke="#1a1a1a" stroke-width="0.9"/>
<text x="429.45" y="313.73" font-size="6.9" text-anchor="end" fill="#383838">50</text>
<line x1="435.15" y1="388.75" x2="512.5" y2="388.75" stroke="#1a1a1a" stroke-width="1.4"/>
<line x1="445.5" y1="388.75" x2="445.5" y2="391.75" stroke="#1a1a1a" stroke-width="0.9"/>
<text x="445.5" y="400.95" font-size="6.8" text-anchor="middle" fill="#333">4</text>
<line x1="465" y1="388.75" x2="465" y2="391.75" stroke="#1a1a1a" stroke-width="0.9"/>
<text x="465" y="400.95" font-size="6.8" text-anchor="middle" fill="#333">8</text>
<line x1="483.75" y1="388.75" x2="483.75" y2="391.75" stroke="#1a1a1a" stroke-width="0.9"/>
<text x="483.75" y="400.95" font-size="6.8" text-anchor="middle" fill="#333">12</text>
<line x1="503.25" y1="388.75" x2="503.25" y2="391.75" stroke="#1a1a1a" stroke-width="0.9"/>
<text x="503.25" y="400.95" font-size="6.8" text-anchor="middle" fill="#333">16</text>
<text x="474.5" y="304" font-size="8.4" text-anchor="middle" fill="#222" textLength="23.75" lengthAdjust="spacingAndGlyphs">T cells</text>
<text transform="translate(417.5,349.5) rotate(-90)" font-size="8.4" text-anchor="middle" fill="#333" textLength="56.5" lengthAdjust="spacingAndGlyphs">% of donor-derived</text>
<line x1="465" y1="378.68" x2="465" y2="374.8" stroke="#f8d49a" stroke-width="0.65"/>
<line x1="463.5" y1="374.8" x2="466.5" y2="374.8" stroke="#f8d49a" stroke-width="0.9"/>
<line x1="483.75" y1="375.57" x2="483.75" y2="371.7" stroke="#f8d49a" stroke-width="0.65"/>
<line x1="482.25" y1="371.7" x2="485.25" y2="371.7" stroke="#f8d49a" stroke-width="0.9"/>
<line x1="503.25" y1="377.9" x2="503.25" y2="373.25" stroke="#f8d49a" stroke-width="0.65"/>
<line x1="501.75" y1="373.25" x2="504.75" y2="373.25" stroke="#f8d49a" stroke-width="0.9"/>
<line x1="465" y1="376.35" x2="465" y2="370.15" stroke="#cc6279" stroke-width="0.65"/>
<line x1="463.5" y1="370.15" x2="466.5" y2="370.15" stroke="#cc6279" stroke-width="0.9"/>
<line x1="483.75" y1="369.38" x2="483.75" y2="357.75" stroke="#cc6279" stroke-width="0.65"/>
<line x1="482.25" y1="357.75" x2="485.25" y2="357.75" stroke="#cc6279" stroke-width="0.9"/>
<line x1="503.25" y1="368.6" x2="503.25" y2="359.3" stroke="#cc6279" stroke-width="0.65"/>
<line x1="501.75" y1="359.3" x2="504.75" y2="359.3" stroke="#cc6279" stroke-width="0.9"/>
<line x1="465" y1="381" x2="465" y2="373.25" stroke="#7f9cc6" stroke-width="0.65"/>
<line x1="463.5" y1="373.25" x2="466.5" y2="373.25" stroke="#7f9cc6" stroke-width="0.9"/>
<line x1="483.75" y1="369.38" x2="483.75" y2="343.8" stroke="#7f9cc6" stroke-width="0.65"/>
<line x1="482.25" y1="343.8" x2="485.25" y2="343.8" stroke="#7f9cc6" stroke-width="0.9"/>
<line x1="503.25" y1="368.29" x2="503.25" y2="339.15" stroke="#7f9cc6" stroke-width="0.65"/>
<line x1="501.75" y1="339.15" x2="504.75" y2="339.15" stroke="#7f9cc6" stroke-width="0.9"/>
<line x1="465" y1="367.05" x2="465" y2="348.45" stroke="#9ccf9f" stroke-width="0.65"/>
<line x1="463.5" y1="348.45" x2="466.5" y2="348.45" stroke="#9ccf9f" stroke-width="0.9"/>
<line x1="483.75" y1="360.85" x2="483.75" y2="336.05" stroke="#9ccf9f" stroke-width="0.65"/>
<line x1="482.25" y1="336.05" x2="485.25" y2="336.05" stroke="#9ccf9f" stroke-width="0.9"/>
<line x1="503.25" y1="356.98" x2="503.25" y2="329.07" stroke="#9ccf9f" stroke-width="0.65"/>
<line x1="501.75" y1="329.07" x2="504.75" y2="329.07" stroke="#9ccf9f" stroke-width="0.9"/>
<polyline points="445.5,388.75 465,378.68 483.75,375.57 503.25,377.9" fill="none" stroke="#f4b24e" stroke-width="1.15" stroke-linejoin="round"/>
<circle cx="445.5" cy="388.75" r="1.2" fill="#f4b24e"/>
<circle cx="465" cy="378.68" r="1.2" fill="#f4b24e"/>
<circle cx="483.75" cy="375.57" r="1.2" fill="#f4b24e"/>
<circle cx="503.25" cy="377.9" r="1.2" fill="#f4b24e"/>
<polyline points="445.5,388.75 465,376.35 483.75,369.38 503.25,368.6" fill="none" stroke="#b8193c" stroke-width="1.15" stroke-linejoin="round"/>
<circle cx="445.5" cy="388.75" r="1.2" fill="#b8193c"/>
<circle cx="465" cy="376.35" r="1.2" fill="#b8193c"/>
<circle cx="483.75" cy="369.38" r="1.2" fill="#b8193c"/>
<circle cx="503.25" cy="368.6" r="1.2" fill="#b8193c"/>
<polyline points="445.5,388.75 465,381 483.75,369.38 503.25,368.29" fill="none" stroke="#23508f" stroke-width="1.15" stroke-linejoin="round"/>
<circle cx="445.5" cy="388.75" r="1.2" fill="#23508f"/>
<circle cx="465" cy="381" r="1.2" fill="#23508f"/>
<circle cx="483.75" cy="369.38" r="1.2" fill="#23508f"/>
<circle cx="503.25" cy="368.29" r="1.2" fill="#23508f"/>
<polyline points="445.5,388.75 465,367.05 483.75,360.85 503.25,356.98" fill="none" stroke="#3f9e47" stroke-width="1.15" stroke-linejoin="round"/>
<circle cx="445.5" cy="388.75" r="1.2" fill="#3f9e47"/>
<circle cx="465" cy="367.05" r="1.2" fill="#3f9e47"/>
<circle cx="483.75" cy="360.85" r="1.2" fill="#3f9e47"/>
<circle cx="503.25" cy="356.98" r="1.2" fill="#3f9e47"/>
<text x="286.5" y="412.8" font-size="9" text-anchor="middle" fill="#333" textLength="82" lengthAdjust="spacingAndGlyphs">Weeks after transplantation</text>
<text x="11.5" y="437.2" font-size="11" text-anchor="middle" fill="#111" font-weight="bold" stroke="#111" stroke-width="0.35">E</text>
<text x="287.25" y="430.8" font-size="8.6" text-anchor="middle" fill="#222" textLength="100.5" lengthAdjust="spacingAndGlyphs">50 MPP primary recipients</text>
<line x1="44.5" y1="458" x2="44.5" y2="538.1" stroke="#1a1a1a" stroke-width="1.2"/>
<line x1="42" y1="537.5" x2="44.5" y2="537.5" stroke="#1a1a1a" stroke-width="0.9"/>
<text x="38.2" y="539.98" font-size="6.9" text-anchor="end" fill="#383838">0</text>
<line x1="42" y1="518" x2="44.5" y2="518" stroke="#1a1a1a" stroke-width="0.9"/>
<text x="38.2" y="520.48" font-size="6.9" text-anchor="end" fill="#383838">20</text>
<line x1="42" y1="498.5" x2="44.5" y2="498.5" stroke="#1a1a1a" stroke-width="0.9"/>
<text x="38.2" y="500.98" font-size="6.9" text-anchor="end" fill="#383838">40</text>
<line x1="42" y1="479" x2="44.5" y2="479" stroke="#1a1a1a" stroke-width="0.9"/>
<text x="38.2" y="481.48" font-size="6.9" text-anchor="end" fill="#383838">60</text>
<line x1="42" y1="459.5" x2="44.5" y2="459.5" stroke="#1a1a1a" stroke-width="0.9"/>
<text x="38.2" y="461.98" font-size="6.9" text-anchor="end" fill="#383838">80</text>
<line x1="43.9" y1="537.5" x2="121.8" y2="537.5" stroke="#1a1a1a" stroke-width="1.4"/>
<line x1="54.25" y1="537.5" x2="54.25" y2="540.5" stroke="#1a1a1a" stroke-width="0.9"/>
<text x="54.25" y="549.7" font-size="6.8" text-anchor="middle" fill="#333">4</text>
<line x1="73.75" y1="537.5" x2="73.75" y2="540.5" stroke="#1a1a1a" stroke-width="0.9"/>
<text x="73.75" y="549.7" font-size="6.8" text-anchor="middle" fill="#333">8</text>
<line x1="93" y1="537.5" x2="93" y2="540.5" stroke="#1a1a1a" stroke-width="0.9"/>
<text x="93" y="549.7" font-size="6.8" text-anchor="middle" fill="#333">12</text>
<line x1="112.5" y1="537.5" x2="112.5" y2="540.5" stroke="#1a1a1a" stroke-width="0.9"/>
<text x="112.5" y="549.7" font-size="6.8" text-anchor="middle" fill="#333">16</text>
<text x="83.3" y="447" font-size="8.4" text-anchor="middle" fill="#222" textLength="57" lengthAdjust="spacingAndGlyphs">All CD45<tspan font-size="5" dy="-3">+</tspan><tspan dy="3"> cells</tspan></text>
<text transform="translate(23.5,498) rotate(-90)" font-size="8.4" text-anchor="middle" fill="#333" textLength="56.5" lengthAdjust="spacingAndGlyphs">% of donor-derived</text>
<line x1="54.25" y1="532.14" x2="54.25" y2="529.7" stroke="#9ccf9f" stroke-width="0.65"/>
<line x1="52.75" y1="529.7" x2="55.75" y2="529.7" stroke="#9ccf9f" stroke-width="0.9"/>
<line x1="73.75" y1="529.7" x2="73.75" y2="523.85" stroke="#9ccf9f" stroke-width="0.65"/>
<line x1="72.25" y1="523.85" x2="75.25" y2="523.85" stroke="#9ccf9f" stroke-width="0.9"/>
<line x1="93" y1="530.67" x2="93" y2="525.8" stroke="#9ccf9f" stroke-width="0.65"/>
<line x1="91.5" y1="525.8" x2="94.5" y2="525.8" stroke="#9ccf9f" stroke-width="0.9"/>
<line x1="112.5" y1="530.67" x2="112.5" y2="525.8" stroke="#9ccf9f" stroke-width="0.65"/>
<line x1="111" y1="525.8" x2="114" y2="525.8" stroke="#9ccf9f" stroke-width="0.9"/>
<line x1="54.25" y1="530.19" x2="54.25" y2="520.92" stroke="#7f9cc6" stroke-width="0.65"/>
<line x1="52.75" y1="520.92" x2="55.75" y2="520.92" stroke="#7f9cc6" stroke-width="0.9"/>
<line x1="73.75" y1="525.8" x2="73.75" y2="512.15" stroke="#7f9cc6" stroke-width="0.65"/>
<line x1="72.25" y1="512.15" x2="75.25" y2="512.15" stroke="#7f9cc6" stroke-width="0.9"/>
<line x1="93" y1="528.24" x2="93" y2="514.1" stroke="#7f9cc6" stroke-width="0.65"/>
<line x1="91.5" y1="514.1" x2="94.5" y2="514.1" stroke="#7f9cc6" stroke-width="0.9"/>
<line x1="112.5" y1="529.21" x2="112.5" y2="516.05" stroke="#7f9cc6" stroke-width="0.65"/>
<line x1="111" y1="516.05" x2="114" y2="516.05" stroke="#7f9cc6" stroke-width="0.9"/>
<line x1="54.25" y1="519.46" x2="54.25" y2="505.32" stroke="#f8d49a" stroke-width="0.65"/>
<line x1="52.75" y1="505.32" x2="55.75" y2="505.32" stroke="#f8d49a" stroke-width="0.9"/>
<line x1="73.75" y1="514.59" x2="73.75" y2="498.5" stroke="#f8d49a" stroke-width="0.65"/>
<line x1="72.25" y1="498.5" x2="75.25" y2="498.5" stroke="#f8d49a" stroke-width="0.9"/>
<line x1="93" y1="514.59" x2="93" y2="500.45" stroke="#f8d49a" stroke-width="0.65"/>
<line x1="91.5" y1="500.45" x2="94.5" y2="500.45" stroke="#f8d49a" stroke-width="0.9"/>
<line x1="112.5" y1="515.08" x2="112.5" y2="502.4" stroke="#f8d49a" stroke-width="0.65"/>
<line x1="111" y1="502.4" x2="114" y2="502.4" stroke="#f8d49a" stroke-width="0.9"/>
<line x1="54.25" y1="505.32" x2="54.25" y2="481.93" stroke="#cc6279" stroke-width="0.65"/>
<line x1="52.75" y1="481.93" x2="55.75" y2="481.93" stroke="#cc6279" stroke-width="0.9"/>
<line x1="73.75" y1="503.38" x2="73.75" y2="475.1" stroke="#cc6279" stroke-width="0.65"/>
<line x1="72.25" y1="475.1" x2="75.25" y2="475.1" stroke="#cc6279" stroke-width="0.9"/>
<line x1="93" y1="506.3" x2="93" y2="476.07" stroke="#cc6279" stroke-width="0.65"/>
<line x1="91.5" y1="476.07" x2="94.5" y2="476.07" stroke="#cc6279" stroke-width="0.9"/>
<line x1="112.5" y1="508.74" x2="112.5" y2="479" stroke="#cc6279" stroke-width="0.65"/>
<line x1="111" y1="479" x2="114" y2="479" stroke="#cc6279" stroke-width="0.9"/>
<polyline points="54.25,532.14 73.75,529.7 93,530.67 112.5,530.67" fill="none" stroke="#3f9e47" stroke-width="1.15" stroke-linejoin="round"/>
<circle cx="54.25" cy="532.14" r="1.2" fill="#3f9e47"/>
<circle cx="73.75" cy="529.7" r="1.2" fill="#3f9e47"/>
<circle cx="93" cy="530.67" r="1.2" fill="#3f9e47"/>
<circle cx="112.5" cy="530.67" r="1.2" fill="#3f9e47"/>
<polyline points="54.25,530.19 73.75,525.8 93,528.24 112.5,529.21" fill="none" stroke="#23508f" stroke-width="1.15" stroke-linejoin="round"/>
<circle cx="54.25" cy="530.19" r="1.2" fill="#23508f"/>
<circle cx="73.75" cy="525.8" r="1.2" fill="#23508f"/>
<circle cx="93" cy="528.24" r="1.2" fill="#23508f"/>
<circle cx="112.5" cy="529.21" r="1.2" fill="#23508f"/>
<polyline points="54.25,519.46 73.75,514.59 93,514.59 112.5,515.08" fill="none" stroke="#f4b24e" stroke-width="1.15" stroke-linejoin="round"/>
<circle cx="54.25" cy="519.46" r="1.2" fill="#f4b24e"/>
<circle cx="73.75" cy="514.59" r="1.2" fill="#f4b24e"/>
<circle cx="93" cy="514.59" r="1.2" fill="#f4b24e"/>
<circle cx="112.5" cy="515.08" r="1.2" fill="#f4b24e"/>
<polyline points="54.25,505.32 73.75,503.38 93,506.3 112.5,508.74" fill="none" stroke="#b8193c" stroke-width="1.15" stroke-linejoin="round"/>
<circle cx="54.25" cy="505.32" r="1.2" fill="#b8193c"/>
<circle cx="73.75" cy="503.38" r="1.2" fill="#b8193c"/>
<circle cx="93" cy="506.3" r="1.2" fill="#b8193c"/>
<circle cx="112.5" cy="508.74" r="1.2" fill="#b8193c"/>
<text x="54.25" y="465.5" font-size="7" text-anchor="middle" fill="#c3102f">**</text>
<text x="54.25" y="474" font-size="7" text-anchor="middle" fill="#c3102f">###</text>
<text x="54.25" y="480.3" font-size="7" text-anchor="middle" fill="#f4b24e">#</text>
<text x="73.75" y="473.5" font-size="7" text-anchor="middle" fill="#c3102f">#</text>
<line x1="115.7" y1="509.4" x2="118.4" y2="509.4" stroke="#1a1a1a" stroke-width="0.9"/>
<line x1="118.4" y1="509.4" x2="118.4" y2="529.5" stroke="#1a1a1a" stroke-width="0.9"/>
<line x1="115.7" y1="529.5" x2="118.4" y2="529.5" stroke="#1a1a1a" stroke-width="0.9"/>
<text x="121.4" y="521.5" font-size="5.5" text-anchor="middle" fill="#555">*</text>
<line x1="123.5" y1="509.4" x2="123.5" y2="516.2" stroke="#1a1a1a" stroke-width="0.9"/>
<line x1="123.5" y1="513" x2="126.8" y2="513" stroke="#1a1a1a" stroke-width="0.9"/>
<line x1="126.8" y1="513" x2="126.8" y2="530.3" stroke="#1a1a1a" stroke-width="0.9"/>
<line x1="123.5" y1="530.3" x2="126.8" y2="530.3" stroke="#1a1a1a" stroke-width="0.9"/>
<text x="129.8" y="523.2" font-size="5.5" text-anchor="middle" fill="#555">*</text>
<line x1="175.75" y1="458" x2="175.75" y2="537.6" stroke="#1a1a1a" stroke-width="1.2"/>
<line x1="173.25" y1="537" x2="175.75" y2="537" stroke="#1a1a1a" stroke-width="0.9"/>
<text x="169.45" y="539.48" font-size="6.9" text-anchor="end" fill="#383838">0</text>
<line x1="173.25" y1="521.5" x2="175.75" y2="521.5" stroke="#1a1a1a" stroke-width="0.9"/>
<text x="169.45" y="523.98" font-size="6.9" text-anchor="end" fill="#383838">20</text>
<line x1="173.25" y1="506" x2="175.75" y2="506" stroke="#1a1a1a" stroke-width="0.9"/>
<text x="169.45" y="508.48" font-size="6.9" text-anchor="end" fill="#383838">40</text>
<line x1="173.25" y1="490.5" x2="175.75" y2="490.5" stroke="#1a1a1a" stroke-width="0.9"/>
<text x="169.45" y="492.98" font-size="6.9" text-anchor="end" fill="#383838">60</text>
<line x1="173.25" y1="475" x2="175.75" y2="475" stroke="#1a1a1a" stroke-width="0.9"/>
<text x="169.45" y="477.48" font-size="6.9" text-anchor="end" fill="#383838">80</text>
<line x1="173.25" y1="459.5" x2="175.75" y2="459.5" stroke="#1a1a1a" stroke-width="0.9"/>
<text x="169.45" y="461.98" font-size="6.9" text-anchor="end" fill="#383838">100</text>
<line x1="175.15" y1="537" x2="253.5" y2="537" stroke="#1a1a1a" stroke-width="1.4"/>
<line x1="186.25" y1="537" x2="186.25" y2="540" stroke="#1a1a1a" stroke-width="0.9"/>
<text x="186.25" y="549.2" font-size="6.8" text-anchor="middle" fill="#333">4</text>
<line x1="205.5" y1="537" x2="205.5" y2="540" stroke="#1a1a1a" stroke-width="0.9"/>
<text x="205.5" y="549.2" font-size="6.8" text-anchor="middle" fill="#333">8</text>
<line x1="224.5" y1="537" x2="224.5" y2="540" stroke="#1a1a1a" stroke-width="0.9"/>
<text x="224.5" y="549.2" font-size="6.8" text-anchor="middle" fill="#333">12</text>
<line x1="243.75" y1="537" x2="243.75" y2="540" stroke="#1a1a1a" stroke-width="0.9"/>
<text x="243.75" y="549.2" font-size="6.8" text-anchor="middle" fill="#333">16</text>
<text x="215" y="447" font-size="8.4" text-anchor="middle" fill="#222" textLength="50" lengthAdjust="spacingAndGlyphs">Myeloid cells</text>
<text transform="translate(155,497.75) rotate(-90)" font-size="8.4" text-anchor="middle" fill="#333" textLength="56.5" lengthAdjust="spacingAndGlyphs">% of donor-derived</text>
<line x1="186.25" y1="529.25" x2="186.25" y2="521.5" stroke="#9ccf9f" stroke-width="0.65"/>
<line x1="184.75" y1="521.5" x2="187.75" y2="521.5" stroke="#9ccf9f" stroke-width="0.9"/>
<line x1="205.5" y1="535.45" x2="205.5" y2="532.35" stroke="#9ccf9f" stroke-width="0.65"/>
<line x1="204" y1="532.35" x2="207" y2="532.35" stroke="#9ccf9f" stroke-width="0.9"/>
<line x1="224.5" y1="536.23" x2="224.5" y2="533.9" stroke="#9ccf9f" stroke-width="0.65"/>
<line x1="223" y1="533.9" x2="226" y2="533.9" stroke="#9ccf9f" stroke-width="0.9"/>
<line x1="243.75" y1="536.61" x2="243.75" y2="534.67" stroke="#9ccf9f" stroke-width="0.65"/>
<line x1="242.25" y1="534.67" x2="245.25" y2="534.67" stroke="#9ccf9f" stroke-width="0.9"/>
<line x1="186.25" y1="528.86" x2="186.25" y2="513.75" stroke="#7f9cc6" stroke-width="0.65"/>
<line x1="184.75" y1="513.75" x2="187.75" y2="513.75" stroke="#7f9cc6" stroke-width="0.9"/>
<line x1="205.5" y1="533.12" x2="205.5" y2="519.95" stroke="#7f9cc6" stroke-width="0.65"/>
<line x1="204" y1="519.95" x2="207" y2="519.95" stroke="#7f9cc6" stroke-width="0.9"/>
<line x1="224.5" y1="533.51" x2="224.5" y2="521.5" stroke="#7f9cc6" stroke-width="0.65"/>
<line x1="223" y1="521.5" x2="226" y2="521.5" stroke="#7f9cc6" stroke-width="0.9"/>
<line x1="243.75" y1="533.9" x2="243.75" y2="523.05" stroke="#7f9cc6" stroke-width="0.65"/>
<line x1="242.25" y1="523.05" x2="245.25" y2="523.05" stroke="#7f9cc6" stroke-width="0.9"/>
<line x1="186.25" y1="517.24" x2="186.25" y2="502.12" stroke="#f8d49a" stroke-width="0.65"/>
<line x1="184.75" y1="502.12" x2="187.75" y2="502.12" stroke="#f8d49a" stroke-width="0.9"/>
<line x1="205.5" y1="517.62" x2="205.5" y2="488.18" stroke="#f8d49a" stroke-width="0.65"/>
<line x1="204" y1="488.18" x2="207" y2="488.18" stroke="#f8d49a" stroke-width="0.9"/>
<line x1="224.5" y1="521.5" x2="224.5" y2="487.4" stroke="#f8d49a" stroke-width="0.65"/>
<line x1="223" y1="487.4" x2="226" y2="487.4" stroke="#f8d49a" stroke-width="0.9"/>
<line x1="243.75" y1="521.5" x2="243.75" y2="489.73" stroke="#f8d49a" stroke-width="0.65"/>
<line x1="242.25" y1="489.73" x2="245.25" y2="489.73" stroke="#f8d49a" stroke-width="0.9"/>
<line x1="186.25" y1="507.16" x2="186.25" y2="478.1" stroke="#cc6279" stroke-width="0.65"/>
<line x1="184.75" y1="478.1" x2="187.75" y2="478.1" stroke="#cc6279" stroke-width="0.9"/>
<line x1="205.5" y1="523.83" x2="205.5" y2="497.48" stroke="#cc6279" stroke-width="0.65"/>
<line x1="204" y1="497.48" x2="207" y2="497.48" stroke="#cc6279" stroke-width="0.9"/>
<line x1="224.5" y1="522.27" x2="224.5" y2="494.38" stroke="#cc6279" stroke-width="0.65"/>
<line x1="223" y1="494.38" x2="226" y2="494.38" stroke="#cc6279" stroke-width="0.9"/>
<line x1="243.75" y1="520.73" x2="243.75" y2="492.05" stroke="#cc6279" stroke-width="0.65"/>
<line x1="242.25" y1="492.05" x2="245.25" y2="492.05" stroke="#cc6279" stroke-width="0.9"/>
<polyline points="186.25,529.25 205.5,535.45 224.5,536.23 243.75,536.61" fill="none" stroke="#3f9e47" stroke-width="1.15" stroke-linejoin="round"/>
<circle cx="186.25" cy="529.25" r="1.2" fill="#3f9e47"/>
<circle cx="205.5" cy="535.45" r="1.2" fill="#3f9e47"/>
<circle cx="224.5" cy="536.23" r="1.2" fill="#3f9e47"/>
<circle cx="243.75" cy="536.61" r="1.2" fill="#3f9e47"/>
<polyline points="186.25,528.86 205.5,533.12 224.5,533.51 243.75,533.9" fill="none" stroke="#23508f" stroke-width="1.15" stroke-linejoin="round"/>
<circle cx="186.25" cy="528.86" r="1.2" fill="#23508f"/>
<circle cx="205.5" cy="533.12" r="1.2" fill="#23508f"/>
<circle cx="224.5" cy="533.51" r="1.2" fill="#23508f"/>
<circle cx="243.75" cy="533.9" r="1.2" fill="#23508f"/>
<polyline points="186.25,517.24 205.5,517.62 224.5,521.5 243.75,521.5" fill="none" stroke="#f4b24e" stroke-width="1.15" stroke-linejoin="round"/>
<circle cx="186.25" cy="517.24" r="1.2" fill="#f4b24e"/>
<circle cx="205.5" cy="517.62" r="1.2" fill="#f4b24e"/>
<circle cx="224.5" cy="521.5" r="1.2" fill="#f4b24e"/>
<circle cx="243.75" cy="521.5" r="1.2" fill="#f4b24e"/>
<polyline points="186.25,507.16 205.5,523.83 224.5,522.27 243.75,520.73" fill="none" stroke="#b8193c" stroke-width="1.15" stroke-linejoin="round"/>
<circle cx="186.25" cy="507.16" r="1.2" fill="#b8193c"/>
<circle cx="205.5" cy="523.83" r="1.2" fill="#b8193c"/>
<circle cx="224.5" cy="522.27" r="1.2" fill="#b8193c"/>
<circle cx="243.75" cy="520.73" r="1.2" fill="#b8193c"/>
<text x="224.5" y="489.5" font-size="7" text-anchor="middle" fill="#f4b24e">*</text>
<text x="224.5" y="494.5" font-size="7" text-anchor="middle" fill="#c3102f">*</text>
<text x="243.75" y="489.5" font-size="7" text-anchor="middle" fill="#f4b24e">*</text>
<text x="243.75" y="494.5" font-size="7" text-anchor="middle" fill="#c3102f">*</text>
<line x1="248.3" y1="518.6" x2="248.3" y2="522.7" stroke="#1a1a1a" stroke-width="0.9"/>
<line x1="248.3" y1="520.2" x2="251.8" y2="520.2" stroke="#1a1a1a" stroke-width="0.9"/>
<line x1="251.8" y1="520.2" x2="251.8" y2="535.2" stroke="#1a1a1a" stroke-width="0.9"/>
<line x1="248.3" y1="535.2" x2="251.8" y2="535.2" stroke="#1a1a1a" stroke-width="0.9"/>
<text x="254.6" y="530" font-size="5.5" text-anchor="middle" fill="#3f9e47">*</text>
<line x1="256.6" y1="518.6" x2="256.6" y2="522.7" stroke="#1a1a1a" stroke-width="0.9"/>
<line x1="256.6" y1="520.2" x2="260.6" y2="520.2" stroke="#1a1a1a" stroke-width="0.9"/>
<line x1="260.6" y1="520.2" x2="260.6" y2="536.4" stroke="#1a1a1a" stroke-width="0.9"/>
<line x1="256.6" y1="536.4" x2="260.6" y2="536.4" stroke="#1a1a1a" stroke-width="0.9"/>
<text x="263.2" y="531" font-size="5.5" text-anchor="middle" fill="#555">*</text>
<line x1="309.25" y1="458" x2="309.25" y2="537.6" stroke="#1a1a1a" stroke-width="1.2"/>
<line x1="306.75" y1="537" x2="309.25" y2="537" stroke="#1a1a1a" stroke-width="0.9"/>
<text x="302.95" y="539.48" font-size="6.9" text-anchor="end" fill="#383838">0</text>
<line x1="306.75" y1="521.5" x2="309.25" y2="521.5" stroke="#1a1a1a" stroke-width="0.9"/>
<text x="302.95" y="523.98" font-size="6.9" text-anchor="end" fill="#383838">20</text>
<line x1="306.75" y1="506" x2="309.25" y2="506" stroke="#1a1a1a" stroke-width="0.9"/>
<text x="302.95" y="508.48" font-size="6.9" text-anchor="end" fill="#383838">40</text>
<line x1="306.75" y1="490.5" x2="309.25" y2="490.5" stroke="#1a1a1a" stroke-width="0.9"/>
<text x="302.95" y="492.98" font-size="6.9" text-anchor="end" fill="#383838">60</text>
<line x1="306.75" y1="475" x2="309.25" y2="475" stroke="#1a1a1a" stroke-width="0.9"/>
<text x="302.95" y="477.48" font-size="6.9" text-anchor="end" fill="#383838">80</text>
<line x1="306.75" y1="459.5" x2="309.25" y2="459.5" stroke="#1a1a1a" stroke-width="0.9"/>
<text x="302.95" y="461.98" font-size="6.9" text-anchor="end" fill="#383838">100</text>
<line x1="308.65" y1="537" x2="386.8" y2="537" stroke="#1a1a1a" stroke-width="1.4"/>
<line x1="318.75" y1="537" x2="318.75" y2="540" stroke="#1a1a1a" stroke-width="0.9"/>
<text x="318.75" y="549.2" font-size="6.8" text-anchor="middle" fill="#333">4</text>
<line x1="338.25" y1="537" x2="338.25" y2="540" stroke="#1a1a1a" stroke-width="0.9"/>
<text x="338.25" y="549.2" font-size="6.8" text-anchor="middle" fill="#333">8</text>
<line x1="357.5" y1="537" x2="357.5" y2="540" stroke="#1a1a1a" stroke-width="0.9"/>
<text x="357.5" y="549.2" font-size="6.8" text-anchor="middle" fill="#333">12</text>
<line x1="377" y1="537" x2="377" y2="540" stroke="#1a1a1a" stroke-width="0.9"/>
<text x="377" y="549.2" font-size="6.8" text-anchor="middle" fill="#333">16</text>
<text x="348" y="447" font-size="8.4" text-anchor="middle" fill="#222" textLength="23.75" lengthAdjust="spacingAndGlyphs">B cells</text>
<text transform="translate(287.5,497.75) rotate(-90)" font-size="8.4" text-anchor="middle" fill="#333" textLength="56.5" lengthAdjust="spacingAndGlyphs">% of donor-derived</text>
<line x1="318.75" y1="529.25" x2="318.75" y2="523.05" stroke="#9ccf9f" stroke-width="0.65"/>
<line x1="317.25" y1="523.05" x2="320.25" y2="523.05" stroke="#9ccf9f" stroke-width="0.9"/>
<line x1="338.25" y1="530.8" x2="338.25" y2="524.6" stroke="#9ccf9f" stroke-width="0.65"/>
<line x1="336.75" y1="524.6" x2="339.75" y2="524.6" stroke="#9ccf9f" stroke-width="0.9"/>
<line x1="357.5" y1="530.41" x2="357.5" y2="526.15" stroke="#9ccf9f" stroke-width="0.65"/>
<line x1="356" y1="526.15" x2="359" y2="526.15" stroke="#9ccf9f" stroke-width="0.9"/>
<line x1="377" y1="530.02" x2="377" y2="526.15" stroke="#9ccf9f" stroke-width="0.65"/>
<line x1="375.5" y1="526.15" x2="378.5" y2="526.15" stroke="#9ccf9f" stroke-width="0.9"/>
<line x1="318.75" y1="522.66" x2="318.75" y2="507.55" stroke="#7f9cc6" stroke-width="0.65"/>
<line x1="317.25" y1="507.55" x2="320.25" y2="507.55" stroke="#7f9cc6" stroke-width="0.9"/>
<line x1="338.25" y1="527.31" x2="338.25" y2="509.1" stroke="#7f9cc6" stroke-width="0.65"/>
<line x1="336.75" y1="509.1" x2="339.75" y2="509.1" stroke="#7f9cc6" stroke-width="0.9"/>
<line x1="357.5" y1="529.25" x2="357.5" y2="512.2" stroke="#7f9cc6" stroke-width="0.65"/>
<line x1="356" y1="512.2" x2="359" y2="512.2" stroke="#7f9cc6" stroke-width="0.9"/>
<line x1="377" y1="530.02" x2="377" y2="513.75" stroke="#7f9cc6" stroke-width="0.65"/>
<line x1="375.5" y1="513.75" x2="378.5" y2="513.75" stroke="#7f9cc6" stroke-width="0.9"/>
<line x1="318.75" y1="506.39" x2="318.75" y2="494.38" stroke="#f8d49a" stroke-width="0.65"/>
<line x1="317.25" y1="494.38" x2="320.25" y2="494.38" stroke="#f8d49a" stroke-width="0.9"/>
<line x1="338.25" y1="506" x2="338.25" y2="492.05" stroke="#f8d49a" stroke-width="0.65"/>
<line x1="336.75" y1="492.05" x2="339.75" y2="492.05" stroke="#f8d49a" stroke-width="0.9"/>
<line x1="357.5" y1="508.32" x2="357.5" y2="495.15" stroke="#f8d49a" stroke-width="0.65"/>
<line x1="356" y1="495.15" x2="359" y2="495.15" stroke="#f8d49a" stroke-width="0.9"/>
<line x1="377" y1="510.26" x2="377" y2="498.25" stroke="#f8d49a" stroke-width="0.65"/>
<line x1="375.5" y1="498.25" x2="378.5" y2="498.25" stroke="#f8d49a" stroke-width="0.9"/>
<line x1="318.75" y1="495.93" x2="318.75" y2="469.57" stroke="#cc6279" stroke-width="0.65"/>
<line x1="317.25" y1="469.57" x2="320.25" y2="469.57" stroke="#cc6279" stroke-width="0.9"/>
<line x1="338.25" y1="497.09" x2="338.25" y2="466.48" stroke="#cc6279" stroke-width="0.65"/>
<line x1="336.75" y1="466.48" x2="339.75" y2="466.48" stroke="#cc6279" stroke-width="0.9"/>
<line x1="357.5" y1="503.68" x2="357.5" y2="473.45" stroke="#cc6279" stroke-width="0.65"/>
<line x1="356" y1="473.45" x2="359" y2="473.45" stroke="#cc6279" stroke-width="0.9"/>
<line x1="377" y1="506.39" x2="377" y2="477.32" stroke="#cc6279" stroke-width="0.65"/>
<line x1="375.5" y1="477.32" x2="378.5" y2="477.32" stroke="#cc6279" stroke-width="0.9"/>
<polyline points="318.75,529.25 338.25,530.8 357.5,530.41 377,530.02" fill="none" stroke="#3f9e47" stroke-width="1.15" stroke-linejoin="round"/>
<circle cx="318.75" cy="529.25" r="1.2" fill="#3f9e47"/>
<circle cx="338.25" cy="530.8" r="1.2" fill="#3f9e47"/>
<circle cx="357.5" cy="530.41" r="1.2" fill="#3f9e47"/>
<circle cx="377" cy="530.02" r="1.2" fill="#3f9e47"/>
<polyline points="318.75,522.66 338.25,527.31 357.5,529.25 377,530.02" fill="none" stroke="#23508f" stroke-width="1.15" stroke-linejoin="round"/>
<circle cx="318.75" cy="522.66" r="1.2" fill="#23508f"/>
<circle cx="338.25" cy="527.31" r="1.2" fill="#23508f"/>
<circle cx="357.5" cy="529.25" r="1.2" fill="#23508f"/>
<circle cx="377" cy="530.02" r="1.2" fill="#23508f"/>
<polyline points="318.75,506.39 338.25,506 357.5,508.32 377,510.26" fill="none" stroke="#f4b24e" stroke-width="1.15" stroke-linejoin="round"/>
<circle cx="318.75" cy="506.39" r="1.2" fill="#f4b24e"/>
<circle cx="338.25" cy="506" r="1.2" fill="#f4b24e"/>
<circle cx="357.5" cy="508.32" r="1.2" fill="#f4b24e"/>
<circle cx="377" cy="510.26" r="1.2" fill="#f4b24e"/>
<polyline points="318.75,495.93 338.25,497.09 357.5,503.68 377,506.39" fill="none" stroke="#b8193c" stroke-width="1.15" stroke-linejoin="round"/>
<circle cx="318.75" cy="495.93" r="1.2" fill="#b8193c"/>
<circle cx="338.25" cy="497.09" r="1.2" fill="#b8193c"/>
<circle cx="357.5" cy="503.68" r="1.2" fill="#b8193c"/>
<circle cx="377" cy="506.39" r="1.2" fill="#b8193c"/>
<text x="318.75" y="455" font-size="7" text-anchor="middle" fill="#c3102f">*</text>
<text x="318.75" y="461.6" font-size="7" text-anchor="middle" fill="#c3102f">###</text>
<text x="318.75" y="468.3" font-size="7" text-anchor="middle" fill="#f4b24e">#</text>
<text x="338.25" y="459.5" font-size="7" text-anchor="middle" fill="#c3102f">**</text>
<text x="338.25" y="465" font-size="7" text-anchor="middle" fill="#c3102f">##</text>
<text x="357.5" y="474.5" font-size="7" text-anchor="middle" fill="#c3102f">*</text>
<line x1="380.7" y1="506.5" x2="380.7" y2="511.4" stroke="#1a1a1a" stroke-width="0.9"/>
<line x1="380.7" y1="509" x2="384.4" y2="509" stroke="#1a1a1a" stroke-width="0.9"/>
<line x1="384.4" y1="509" x2="384.4" y2="530.3" stroke="#1a1a1a" stroke-width="0.9"/>
<line x1="380.7" y1="530.3" x2="384.4" y2="530.3" stroke="#1a1a1a" stroke-width="0.9"/>
<line x1="380.7" y1="506.5" x2="380.7" y2="511.4" stroke="#3f9e47" stroke-width="1"/>
<text x="387.2" y="522" font-size="5.5" text-anchor="middle" fill="#555">*</text>
<line x1="388" y1="506.5" x2="388" y2="511.4" stroke="#1a1a1a" stroke-width="0.9"/>
<line x1="388" y1="509" x2="391.6" y2="509" stroke="#1a1a1a" stroke-width="0.9"/>
<line x1="391.6" y1="509" x2="391.6" y2="530.3" stroke="#1a1a1a" stroke-width="0.9"/>
<line x1="388" y1="530.3" x2="391.6" y2="530.3" stroke="#1a1a1a" stroke-width="0.9"/>
<text x="394.4" y="522" font-size="5.5" text-anchor="middle" fill="#555">*</text>
<line x1="435.75" y1="458" x2="435.75" y2="537.6" stroke="#1a1a1a" stroke-width="1.2"/>
<line x1="433.25" y1="537" x2="435.75" y2="537" stroke="#1a1a1a" stroke-width="0.9"/>
<text x="429.45" y="539.48" font-size="6.9" text-anchor="end" fill="#383838">0</text>
<line x1="433.25" y1="521.5" x2="435.75" y2="521.5" stroke="#1a1a1a" stroke-width="0.9"/>
<text x="429.45" y="523.98" font-size="6.9" text-anchor="end" fill="#383838">10</text>
<line x1="433.25" y1="506" x2="435.75" y2="506" stroke="#1a1a1a" stroke-width="0.9"/>
<text x="429.45" y="508.48" font-size="6.9" text-anchor="end" fill="#383838">20</text>
<line x1="433.25" y1="490.5" x2="435.75" y2="490.5" stroke="#1a1a1a" stroke-width="0.9"/>
<text x="429.45" y="492.98" font-size="6.9" text-anchor="end" fill="#383838">30</text>
<line x1="433.25" y1="475" x2="435.75" y2="475" stroke="#1a1a1a" stroke-width="0.9"/>
<text x="429.45" y="477.48" font-size="6.9" text-anchor="end" fill="#383838">40</text>
<line x1="433.25" y1="459.5" x2="435.75" y2="459.5" stroke="#1a1a1a" stroke-width="0.9"/>
<text x="429.45" y="461.98" font-size="6.9" text-anchor="end" fill="#383838">50</text>
<line x1="435.15" y1="537" x2="512.5" y2="537" stroke="#1a1a1a" stroke-width="1.4"/>
<line x1="445.5" y1="537" x2="445.5" y2="540" stroke="#1a1a1a" stroke-width="0.9"/>
<text x="445.5" y="549.2" font-size="6.8" text-anchor="middle" fill="#333">4</text>
<line x1="465" y1="537" x2="465" y2="540" stroke="#1a1a1a" stroke-width="0.9"/>
<text x="465" y="549.2" font-size="6.8" text-anchor="middle" fill="#333">8</text>
<line x1="483.75" y1="537" x2="483.75" y2="540" stroke="#1a1a1a" stroke-width="0.9"/>
<text x="483.75" y="549.2" font-size="6.8" text-anchor="middle" fill="#333">12</text>
<line x1="503.25" y1="537" x2="503.25" y2="540" stroke="#1a1a1a" stroke-width="0.9"/>
<text x="503.25" y="549.2" font-size="6.8" text-anchor="middle" fill="#333">16</text>
<text x="474.5" y="447" font-size="8.4" text-anchor="middle" fill="#222" textLength="23.75" lengthAdjust="spacingAndGlyphs">T cells</text>
<text transform="translate(417.5,497.75) rotate(-90)" font-size="8.4" text-anchor="middle" fill="#333" textLength="56.5" lengthAdjust="spacingAndGlyphs">% of donor-derived</text>
<line x1="465" y1="530.8" x2="465" y2="527.7" stroke="#f8d49a" stroke-width="0.65"/>
<line x1="463.5" y1="527.7" x2="466.5" y2="527.7" stroke="#f8d49a" stroke-width="0.9"/>
<line x1="483.75" y1="526.15" x2="483.75" y2="523.05" stroke="#f8d49a" stroke-width="0.65"/>
<line x1="482.25" y1="523.05" x2="485.25" y2="523.05" stroke="#f8d49a" stroke-width="0.9"/>
<line x1="503.25" y1="526.92" x2="503.25" y2="524.6" stroke="#f8d49a" stroke-width="0.65"/>
<line x1="501.75" y1="524.6" x2="504.75" y2="524.6" stroke="#f8d49a" stroke-width="0.9"/>
<line x1="445.5" y1="536.23" x2="445.5" y2="533.9" stroke="#cc6279" stroke-width="0.65"/>
<line x1="444" y1="533.9" x2="447" y2="533.9" stroke="#cc6279" stroke-width="0.9"/>
<line x1="465" y1="523.83" x2="465" y2="513.75" stroke="#cc6279" stroke-width="0.65"/>
<line x1="463.5" y1="513.75" x2="466.5" y2="513.75" stroke="#cc6279" stroke-width="0.9"/>
<line x1="483.75" y1="522.27" x2="483.75" y2="509.1" stroke="#cc6279" stroke-width="0.65"/>
<line x1="482.25" y1="509.1" x2="485.25" y2="509.1" stroke="#cc6279" stroke-width="0.9"/>
<line x1="503.25" y1="523.83" x2="503.25" y2="512.2" stroke="#cc6279" stroke-width="0.65"/>
<line x1="501.75" y1="512.2" x2="504.75" y2="512.2" stroke="#cc6279" stroke-width="0.9"/>
<line x1="465" y1="519.17" x2="465" y2="506" stroke="#9ccf9f" stroke-width="0.65"/>
<line x1="463.5" y1="506" x2="466.5" y2="506" stroke="#9ccf9f" stroke-width="0.9"/>
<line x1="483.75" y1="521.5" x2="483.75" y2="506" stroke="#9ccf9f" stroke-width="0.65"/>
<line x1="482.25" y1="506" x2="485.25" y2="506" stroke="#9ccf9f" stroke-width="0.9"/>
<line x1="503.25" y1="522.27" x2="503.25" y2="510.65" stroke="#9ccf9f" stroke-width="0.65"/>
<line x1="501.75" y1="510.65" x2="504.75" y2="510.65" stroke="#9ccf9f" stroke-width="0.9"/>
<line x1="445.5" y1="535.45" x2="445.5" y2="533.9" stroke="#7f9cc6" stroke-width="0.65"/>
<line x1="444" y1="533.9" x2="447" y2="533.9" stroke="#7f9cc6" stroke-width="0.9"/>
<line x1="465" y1="514.52" x2="465" y2="488.95" stroke="#7f9cc6" stroke-width="0.65"/>
<line x1="463.5" y1="488.95" x2="466.5" y2="488.95" stroke="#7f9cc6" stroke-width="0.9"/>
<line x1="483.75" y1="517.62" x2="483.75" y2="488.95" stroke="#7f9cc6" stroke-width="0.65"/>
<line x1="482.25" y1="488.95" x2="485.25" y2="488.95" stroke="#7f9cc6" stroke-width="0.9"/>
<line x1="503.25" y1="520.73" x2="503.25" y2="495.15" stroke="#7f9cc6" stroke-width="0.65"/>
<line x1="501.75" y1="495.15" x2="504.75" y2="495.15" stroke="#7f9cc6" stroke-width="0.9"/>
<polyline points="445.5,537 465,530.8 483.75,526.15 503.25,526.92" fill="none" stroke="#f4b24e" stroke-width="1.15" stroke-linejoin="round"/>
<circle cx="445.5" cy="537" r="1.2" fill="#f4b24e"/>
<circle cx="465" cy="530.8" r="1.2" fill="#f4b24e"/>
<circle cx="483.75" cy="526.15" r="1.2" fill="#f4b24e"/>
<circle cx="503.25" cy="526.92" r="1.2" fill="#f4b24e"/>
<polyline points="445.5,536.23 465,523.83 483.75,522.27 503.25,523.83" fill="none" stroke="#b8193c" stroke-width="1.15" stroke-linejoin="round"/>
<circle cx="445.5" cy="536.23" r="1.2" fill="#b8193c"/>
<circle cx="465" cy="523.83" r="1.2" fill="#b8193c"/>
<circle cx="483.75" cy="522.27" r="1.2" fill="#b8193c"/>
<circle cx="503.25" cy="523.83" r="1.2" fill="#b8193c"/>
<polyline points="445.5,536.23 465,519.17 483.75,521.5 503.25,522.27" fill="none" stroke="#3f9e47" stroke-width="1.15" stroke-linejoin="round"/>
<circle cx="445.5" cy="536.23" r="1.2" fill="#3f9e47"/>
<circle cx="465" cy="519.17" r="1.2" fill="#3f9e47"/>
<circle cx="483.75" cy="521.5" r="1.2" fill="#3f9e47"/>
<circle cx="503.25" cy="522.27" r="1.2" fill="#3f9e47"/>
<polyline points="445.5,535.45 465,514.52 483.75,517.62 503.25,520.73" fill="none" stroke="#23508f" stroke-width="1.15" stroke-linejoin="round"/>
<circle cx="445.5" cy="535.45" r="1.2" fill="#23508f"/>
<circle cx="465" cy="514.52" r="1.2" fill="#23508f"/>
<circle cx="483.75" cy="517.62" r="1.2" fill="#23508f"/>
<circle cx="503.25" cy="520.73" r="1.2" fill="#23508f"/>
<text x="286.3" y="561.3" font-size="9" text-anchor="middle" fill="#333" textLength="82" lengthAdjust="spacingAndGlyphs">Weeks after transplantation</text>
<text x="10" y="581.3" font-size="11" text-anchor="middle" fill="#111" font-weight="bold" stroke="#111" stroke-width="0.35">F</text>
<rect x="19.5" y="580" width="401.75" height="25.5" fill="#c8c8cb"/>
<line x1="18.9" y1="580" x2="421.85" y2="580" stroke="#333" stroke-width="1.2"/>
<line x1="18.9" y1="605.5" x2="421.85" y2="605.5" stroke="#333" stroke-width="1.2"/>
<line x1="18.9" y1="623" x2="421.85" y2="623" stroke="#333" stroke-width="1.2"/>
<line x1="18.9" y1="640.5" x2="421.85" y2="640.5" stroke="#333" stroke-width="1.2"/>
<line x1="18.9" y1="658" x2="421.85" y2="658" stroke="#333" stroke-width="1.2"/>
<line x1="18.9" y1="675.5" x2="421.85" y2="675.5" stroke="#333" stroke-width="1.2"/>
<line x1="19.5" y1="580" x2="19.5" y2="675.5" stroke="#333" stroke-width="1.2"/>
<line x1="62" y1="580" x2="62" y2="675.5" stroke="#333" stroke-width="1.2"/>
<line x1="172.5" y1="580" x2="172.5" y2="675.5" stroke="#333" stroke-width="1.2"/>
<line x1="211.75" y1="580" x2="211.75" y2="675.5" stroke="#333" stroke-width="1.2"/>
<line x1="265" y1="580" x2="265" y2="675.5" stroke="#333" stroke-width="1.2"/>
<line x1="316.75" y1="580" x2="316.75" y2="675.5" stroke="#333" stroke-width="1.2"/>
<line x1="368.75" y1="580" x2="368.75" y2="675.5" stroke="#333" stroke-width="1.2"/>
<line x1="421.25" y1="580" x2="421.25" y2="675.5" stroke="#333" stroke-width="1.2"/>
<text x="41" y="594.8" font-size="6.3" text-anchor="middle" fill="#222" font-weight="bold" textLength="14.25" lengthAdjust="spacingAndGlyphs">Cells</text>
<text x="117.5" y="594.8" font-size="6.3" text-anchor="middle" fill="#222" font-weight="bold" textLength="30" lengthAdjust="spacingAndGlyphs">Genotype</text>
<text x="192.25" y="594.8" font-size="6.3" text-anchor="middle" fill="#222" font-weight="bold" textLength="14.5" lengthAdjust="spacingAndGlyphs">Total</text>
<text x="237.9" y="591" font-size="6.3" text-anchor="middle" fill="#222" font-weight="bold" textLength="30.75" lengthAdjust="spacingAndGlyphs">Long-term</text>
<text x="237.9" y="598.5" font-size="6.3" text-anchor="middle" fill="#222" font-weight="bold" textLength="13.75" lengthAdjust="spacingAndGlyphs">MBT</text>
<text x="291.5" y="591" font-size="6.3" text-anchor="middle" fill="#222" font-weight="bold" textLength="27" lengthAdjust="spacingAndGlyphs">Transient</text>
<text x="291.5" y="598.5" font-size="6.3" text-anchor="middle" fill="#222" font-weight="bold" textLength="13.75" lengthAdjust="spacingAndGlyphs">MBT</text>
<text x="343" y="594.8" font-size="6.3" text-anchor="middle" fill="#222" font-weight="bold" textLength="36.75" lengthAdjust="spacingAndGlyphs">Transient BT</text>
<text x="394.75" y="591" font-size="6.3" text-anchor="middle" fill="#222" font-weight="bold" textLength="29.5" lengthAdjust="spacingAndGlyphs">No recon-</text>
<text x="394.75" y="598.5" font-size="6.3" text-anchor="middle" fill="#222" font-weight="bold" textLength="26" lengthAdjust="spacingAndGlyphs">stitution</text>
<text x="41" y="616.55" font-size="6.3" text-anchor="middle" fill="#222" font-weight="bold" textLength="23.25" lengthAdjust="spacingAndGlyphs">50 MPP</text>
<text x="74.2" y="617.35" font-size="7" font-style="italic" fill="#333" textLength="33.5" lengthAdjust="spacingAndGlyphs"><tspan>Slc23a2</tspan><tspan font-size="4.8" dy="-2.8">fl/fl</tspan></text>
<text x="192.1" y="616.55" font-size="6.5" text-anchor="middle" fill="#333">15</text>
<text x="235.7" y="616.55" font-size="6.5" text-anchor="middle" fill="#333">2 (13%)</text>
<text x="290.6" y="616.55" font-size="6.5" text-anchor="middle" fill="#333">9 (60%)</text>
<text x="342.7" y="616.55" font-size="6.5" text-anchor="middle" fill="#333">4 (27%)</text>
<text x="395" y="616.55" font-size="6.5" text-anchor="middle" fill="#333">0 (0%)</text>
<text x="41" y="634.05" font-size="6.3" text-anchor="middle" fill="#222" font-weight="bold" textLength="23.25" lengthAdjust="spacingAndGlyphs">50 MPP</text>
<text x="74.2" y="634.85" font-size="7" font-style="italic" fill="#333" textLength="59.5" lengthAdjust="spacingAndGlyphs"><tspan>Slc23a2</tspan><tspan font-size="4.8" dy="-2.8">fl/fl</tspan><tspan dy="2.8">;Mx1-Cre</tspan></text>
<text x="192.1" y="634.05" font-size="6.5" text-anchor="middle" fill="#333">18</text>
<text x="235.7" y="634.05" font-size="6.5" text-anchor="middle" fill="#333">8 (44%)</text>
<text x="290.6" y="634.05" font-size="6.5" text-anchor="middle" fill="#333">7 (39%)</text>
<text x="342.7" y="634.05" font-size="6.5" text-anchor="middle" fill="#333">3 (17%)</text>
<text x="395" y="634.05" font-size="6.5" text-anchor="middle" fill="#333">0 (0%)</text>
<text x="41" y="651.55" font-size="6.3" text-anchor="middle" fill="#222" font-weight="bold" textLength="23.25" lengthAdjust="spacingAndGlyphs">50 MPP</text>
<text x="74.2" y="652.35" font-size="7" font-style="italic" fill="#333" textLength="48.5" lengthAdjust="spacingAndGlyphs"><tspan>Tet2</tspan><tspan font-size="4.8" dy="-2.8">fl/fl</tspan><tspan dy="2.8">;Mx1-Cre</tspan></text>
<text x="192.1" y="651.55" font-size="6.5" text-anchor="middle" fill="#333">18</text>
<text x="235.7" y="651.55" font-size="6.5" text-anchor="middle" fill="#333">1 (5.6%)</text>
<text x="290.6" y="651.55" font-size="6.5" text-anchor="middle" fill="#333">11 (61%)</text>
<text x="342.7" y="651.55" font-size="6.5" text-anchor="middle" fill="#333">5 (28%)</text>
<text x="395" y="651.55" font-size="6.5" text-anchor="middle" fill="#333">1 (5.6%)</text>
<text x="41" y="669.05" font-size="6.3" text-anchor="middle" fill="#222" font-weight="bold" textLength="23.25" lengthAdjust="spacingAndGlyphs">50 MPP</text>
<text x="74.2" y="669.85" font-size="7" font-style="italic" fill="#333" textLength="84" lengthAdjust="spacingAndGlyphs"><tspan>Slc23a2</tspan><tspan font-size="4.8" dy="-2.8">fl/fl</tspan><tspan dy="2.8">;Tet2</tspan><tspan font-size="4.8" dy="-2.8">fl/fl</tspan><tspan dy="2.8">;Mx1-Cre</tspan></text>
<text x="192.1" y="669.05" font-size="6.5" text-anchor="middle" fill="#333">17</text>
<text x="235.7" y="669.05" font-size="6.5" text-anchor="middle" fill="#333">8 (47%)</text>
<text x="290.6" y="669.05" font-size="6.5" text-anchor="middle" fill="#333">6 (35%)</text>
<text x="342.7" y="669.05" font-size="6.5" text-anchor="middle" fill="#333">3 (18%)</text>
<text x="395" y="669.05" font-size="6.5" text-anchor="middle" fill="#333">0 (0%)</text>
<line x1="252" y1="632.5" x2="252" y2="647.5" stroke="#333" stroke-width="0.9"/>
<line x1="252" y1="651.25" x2="252" y2="667" stroke="#333" stroke-width="0.9"/>
<text x="255.2" y="644.5" font-size="5.5" text-anchor="middle" fill="#333">*</text>
<text transform="translate(256.5,662.5) rotate(-90)" font-size="5.5" text-anchor="middle" fill="#333">**</text>
</svg>
</body></html>
